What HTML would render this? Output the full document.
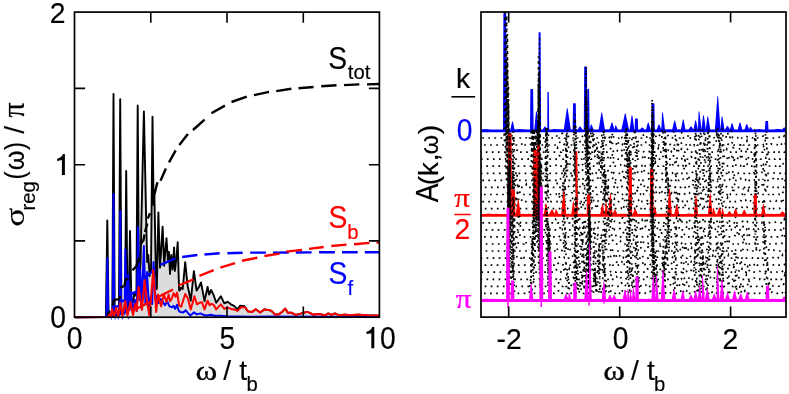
<!DOCTYPE html>
<html><head><meta charset="utf-8"><title>plot</title>
<style>html,body{margin:0;padding:0;background:#fff}svg{display:block;will-change:transform;transform:translateZ(0)}text{font-family:"Liberation Sans",sans-serif;font-size:28px;fill:#000}.sf{font-family:"Liberation Serif",serif}.sub{font-size:20.5px}</style>
</head><body>
<svg width="789" height="394" viewBox="0 0 789 394">
<rect width="789" height="394" fill="#fff"/>
<polygon points="75,317.2 105.9,317 107.3,220.5 108.6,316.5 112.3,316 113.5,94 114.7,315.5 118.9,315 120.2,99.3 121.5,314 125,312 126.2,171 127.5,308 128.8,300 130,231 131.3,298 133,302 134.5,292 136.4,296 137.7,105.4 139,288 140.6,262 141.3,225 143.9,111.5 146.3,225 147.2,262 148.3,255 149.6,276 151,270 152.5,116.7 153.6,205 154.3,190 155.8,270 156.8,289 158.4,212.5 160,267.6 161.2,250 162.6,226.6 164.2,265.7 165.4,250 166.5,238.3 168,262 169,252 170,274 171.3,255 172.6,269.5 174.1,247.4 174.9,271 176.4,258 177.7,242.3 179.1,290.5 179.6,290.5 181.2,287.5 182.7,289 185.2,262.1 187.5,285 190.8,300.7 193.9,271.2 196.6,290.5 198.9,287 201,282.4 204.5,301.2 207.6,287 209.1,294.6 211.1,290 213.7,295.2 216.2,302.8 220.8,296.2 224.3,303.3 227.4,301.8 230.9,304.3 234,305.8 237.5,309.4 240,305.8 244.6,306.3 247.2,310.4 248,311.4 252.1,311.9 255.7,309.2 260.2,312.4 264.3,309.4 268.4,309.9 271.4,310.9 275,314.4 278.5,314.4 282,311.9 285.1,308.6 288.1,312.9 291.2,312.6 295.8,315 299.8,313.9 303.4,312.9 306.9,311.9 310,312.9 313,314.7 318.1,313.9 321.2,314.4 325.2,315.3 328.3,313.4 331.3,315 334.9,313.4 339.4,315.5 344.5,314.6 350.6,315.2 357.7,314.6 366.9,315.3 379.6,315.6 379.6,317.2 75,317.2" fill="#dcdcdc" stroke="none"/>
<polyline points="75,317.2 105.9,317 107.3,220.5 108.6,316.5 112.3,316 113.5,94 114.7,315.5 118.9,315 120.2,99.3 121.5,314 125,312 126.2,171 127.5,308 128.8,300 130,231 131.3,298 133,302 134.5,292 136.4,296 137.7,105.4 139,288 140.6,262 141.3,225 143.9,111.5 146.3,225 147.2,262 148.3,255 149.6,276 151,270 152.5,116.7 153.6,205 154.3,190 155.8,270 156.8,289 158.4,212.5 160,267.6 161.2,250 162.6,226.6 164.2,265.7 165.4,250 166.5,238.3 168,262 169,252 170,274 171.3,255 172.6,269.5 174.1,247.4 174.9,271 176.4,258 177.7,242.3 179.1,290.5 179.6,290.5 181.2,287.5 182.7,289 185.2,262.1 187.5,285 190.8,300.7 193.9,271.2 196.6,290.5 198.9,287 201,282.4 204.5,301.2 207.6,287 209.1,294.6 211.1,290 213.7,295.2 216.2,302.8 220.8,296.2 224.3,303.3 227.4,301.8 230.9,304.3 234,305.8 237.5,309.4 240,305.8 244.6,306.3 247.2,310.4 248,311.4 252.1,311.9 255.7,309.2 260.2,312.4 264.3,309.4 268.4,309.9 271.4,310.9 275,314.4 278.5,314.4 282,311.9 285.1,308.6 288.1,312.9 291.2,312.6 295.8,315 299.8,313.9 303.4,312.9 306.9,311.9 310,312.9 313,314.7 318.1,313.9 321.2,314.4 325.2,315.3 328.3,313.4 331.3,315 334.9,313.4 339.4,315.5 344.5,314.6 350.6,315.2 357.7,314.6 366.9,315.3 379.6,315.6" fill="none" stroke="#000" stroke-width="1.9" stroke-linejoin="round"/>
<polyline points="75,317.2 106.4,317 107.3,258 108.2,316 112.7,316 113.5,194 114.3,315 116.5,313 117.5,316 119.5,315 120.3,211 121.1,314 123,310 124.5,314 125.4,249.4 126.6,312 128.2,275 129.6,310 131,292 132.8,312 135,300 136.8,311 138.1,227 139.3,300 140.2,270 141.5,308 143.9,246 145.4,304 147,272 148.9,306 151,296 152.2,304 153.5,262 155.5,300 157,296 158.5,303 160.5,299 162.7,301.4 164.9,305.2 167.2,301.4 169.5,306.4 170,306.3 172,307.3 173.6,305.8 175.1,308.9 177.1,304.8 178.6,310.4 180.2,311.9 183.2,312.4 185.7,310.4 188.3,313.4 190.3,315.5 193.9,312.4 196.9,314.4 200.5,313.4 203.5,314.9 207.6,315.5 210.6,314.7 214.7,315.8 220.8,315.8 226.9,316.3 250,316.7 270,316.6 379.6,317" fill="none" stroke="#00f" stroke-width="2" stroke-linejoin="round"/>
<path d="M106.9 314.7 L109.5 311.7 L110.6 311.3M112.9 305.6 L113.7 300.2 L119 299.1 L120.6 296.4M120.3 287.6 L124.5 286 L125.6 279.5 L128.4 278.3M132.5 270.3 L136.5 266 L137.6 262 L139.3 257.5M140.6 244.4 L143.5 240 L144.5 234.5M145 232 L147.3 223.5M147.8 218.6 L150 213.3M152.8 200.3 L154.2 195.5M154.4 194.4 L157.4 182.2M160.5 180.7 L165.9 168.5M169 162.4 L175.7 150.3M179.3 145.1 L187.9 134.1M193 130 L204.6 119.6M211.4 113.2 L224.9 105.6" stroke="#000" stroke-width="2.4" fill="none" stroke-linejoin="round"/>
<path d="M231.5 102 L246.8 96.6M253.9 95.2 L269.1 91.8M276.2 91.1 L291.4 88.8M298.5 88.2 L313.6 87M321.2 86.3 L336.5 85.3M344 85.1 L359.3 84.4M367 84.4 L379.6 84" stroke="#000" stroke-width="2.4" fill="none" stroke-linejoin="round"/>
<path d="M115.2 307.1 L119.8 305.5 L121 301.5 L125.1 300.2M130.5 294.1 L139.6 290.3M144 278.6 L155.5 268.7M160.4 264.9 L175.3 258.4M182.2 257 L197.4 255M204.5 254.5 L219.7 253.3M227.4 253.3 L242.6 252.7M250.2 252.6 L265.9 252.6M273 252.6 L288.7 252.5M295.8 252.5 L311.6 252.4M319.1 252.3 L334.9 252.3M342 252.3 L357.7 252.3M364.8 252.3 L379.5 252.3" stroke="#00f" stroke-width="2.4" fill="none" stroke-linejoin="round"/>
<polyline points="75,317.2 108,317 110,314 111,316.5 112.2,309 114,316.5 116.3,308 118.2,316.5 120.3,303 122.5,316 125.2,301 127.5,315.5 130.5,302 133,315 135.3,304 136.6,311 138.5,287 142,310 144.6,280 147,302 149.3,315 151,298 153.2,270 156.2,312 158,294.6 161.1,306.4 163.8,294.6 166.5,302 168.7,294.6 170,301.2 172,298.2 173.6,293.1 175.6,296.7 177.1,292.6 179.1,305.3 181.2,306.8 185.2,294.1 187.8,298.2 190.8,309.4 194.4,296.2 196.9,304.3 199.4,302.8 202,302.3 204.5,309.4 207.6,300.7 209.6,305.3 211.6,303.8 213.7,304.8 216.2,309.4 220.8,304.3 224.3,308.9 227.4,307.3 230.9,308.9 234,309.4 237.5,310.9 241.1,307.3 245.1,307.3 248.2,311.4 248,311.4 252.1,311.9 255.7,309.2 260.2,312.4 264.3,309.4 268.4,309.9 271.4,310.9 274.9,314.4 278.5,314.4 282.1,311.9 285.1,308.6 288.1,312.9 291.2,312.6 295.8,314.9 299.8,313.9 303.4,312.9 306.9,311.9 310,312.9 313,314.7 318.1,313.9 321.2,314.4 325.2,315.3 328.3,313.4 331.3,314.9 334.9,313.4 339.4,315.5 344.5,314.6 350.6,315.2 357.7,314.6 366.9,315.3 379,315.5" fill="none" stroke="#f00" stroke-width="2" stroke-linejoin="round"/>
<path d="M136 309 L151 301.5M158 297 L173 289.5M178.6 285.5 L193.4 279.4M199.4 275.8 L213.7 270.2M220.3 267.7 L235 263.1M242 260.7 L257.3 257.7M264.4 256 L279.6 253.6M286.2 251.6 L302 249.9M309 248.9 L323.7 247M331.3 246 L346.5 244.6M354 244.2 L369.4 242.9M376.5 242.6 L379.3 242.5" stroke="#f00" stroke-width="2.4" fill="none" stroke-linejoin="round"/>
<path d="M111.3 318 v1.6 M115.2 318 v1.4 M118.3 318 v1.5 M122.3 318 v1.5 M128.5 318 v1.2" stroke="#22f" stroke-width="1" fill="none"/>
<g stroke="#000" stroke-width="1.7" fill="none">
<rect x="74.5" y="12.1" width="304.9" height="305.1"/>
</g>
<g stroke="#000" stroke-width="1.6" fill="none">
<path d="M150.8 317.2 v-10.6 M150.8 12.1 v10.6"/>
<path d="M227 317.2 v-10.6 M227 12.1 v10.6"/>
<path d="M303.3 317.2 v-10.6 M303.3 12.1 v10.6"/>
<path d="M74.5 240.9 h10.6 M379.5 240.9 h-10.6"/>
<path d="M74.5 164.7 h10.6 M379.5 164.7 h-10.6"/>
<path d="M74.5 88.4 h10.6 M379.5 88.4 h-10.6"/>
</g>
<text transform="translate(66.79 349.10) scale(1.000 1.085)" style="font-family:'Liberation Sans',sans-serif;font-size:28.3px;fill:#000;stroke:#000;stroke-width:0.15">0</text>
<text transform="translate(219.57 349.10) scale(1.000 1.085)" style="font-family:'Liberation Sans',sans-serif;font-size:28.3px;fill:#000;stroke:#000;stroke-width:0.15">5</text>
<path d="M374.30 348.30 L371.32 348.30 L371.32 333.27 C369.87 333.69 368.23 334.00 366.48 334.10 L366.48 331.83 C369.36 331.32 371.52 329.57 372.34 327.10 L374.30 327.10 Z" fill="#000"/>
<text transform="translate(380.09 349.10) scale(1.000 1.085)" style="font-family:'Liberation Sans',sans-serif;font-size:28.3px;fill:#000;stroke:#000;stroke-width:0.15">0</text>
<text transform="translate(50.19 328.40) scale(1.000 1.085)" style="font-family:'Liberation Sans',sans-serif;font-size:28.3px;fill:#000;stroke:#000;stroke-width:0.15">0</text>
<path d="M64.90 175.10 L61.92 175.10 L61.92 160.07 C60.47 160.49 58.83 160.80 57.08 160.90 L57.08 158.63 C59.96 158.12 62.12 156.37 62.94 153.90 L64.90 153.90 Z" fill="#000"/>
<text transform="translate(49.78 22.85) scale(1.000 1.030)" style="font-family:'Liberation Sans',sans-serif;font-size:28.3px;fill:#000;stroke:#000;stroke-width:0.15">2</text>
<text transform="translate(195.41 379.70) scale(1.170 1.000)" style="font-family:'Liberation Serif',serif;font-size:28.3px;fill:#000;stroke:#000;stroke-width:0.3">ω</text>
<text transform="translate(223.20 380.00) scale(1.000 1.000)" style="font-family:'Liberation Sans',sans-serif;font-size:28.3px;fill:#000;stroke:#000;stroke-width:0.15">/</text>
<text transform="translate(239.17 380.00) scale(1.000 1.000)" style="font-family:'Liberation Sans',sans-serif;font-size:28.3px;fill:#000;stroke:#000;stroke-width:0.15">t</text>
<text transform="translate(246.49 391.00) scale(1.000 1.000)" style="font-family:'Liberation Sans',sans-serif;font-size:20.3px;fill:#000;stroke:#000;stroke-width:0.15">b</text>
<text transform="translate(24.40 226.85) rotate(-90) scale(1.250 1.000)" style="font-family:'Liberation Serif',serif;font-size:28.3px;fill:#000;stroke:#000;stroke-width:0.12">σ</text>
<text transform="translate(34.90 210.55) rotate(-90) scale(1.000 1.000)" style="font-family:'Liberation Sans',sans-serif;font-size:20.3px;fill:#000;stroke:#000;stroke-width:0.15">reg</text>
<text transform="translate(24.40 179.49) rotate(-90) scale(0.850 1.000)" style="font-family:'Liberation Sans',sans-serif;font-size:28.3px;fill:#000;stroke:#000;stroke-width:0.15">(</text>
<text transform="translate(24.10 170.33) rotate(-90) scale(1.000 1.100)" style="font-family:'Liberation Sans',sans-serif;font-size:25.3px;fill:#000;stroke:#000;stroke-width:0.15">ω</text>
<text transform="translate(24.40 149.94) rotate(-90) scale(0.850 1.000)" style="font-family:'Liberation Sans',sans-serif;font-size:28.3px;fill:#000;stroke:#000;stroke-width:0.15">)</text>
<text transform="translate(24.40 133.70) rotate(-90) scale(1.000 1.000)" style="font-family:'Liberation Sans',sans-serif;font-size:28.3px;fill:#000;stroke:#000;stroke-width:0.15">/</text>
<text transform="translate(24.20 117.61) rotate(-90) scale(1.050 1.120)" style="font-family:'Liberation Serif',serif;font-size:28.3px;fill:#000;stroke:#000;stroke-width:0.2">π</text>
<text transform="translate(328.21 69.00) scale(1.000 1.085)" style="font-family:'Liberation Sans',sans-serif;font-size:28.3px;fill:#000;stroke:#000;stroke-width:0.15">S</text>
<text transform="translate(347.79 79.30) scale(1.000 1.000)" style="font-family:'Liberation Sans',sans-serif;font-size:20.3px;fill:#000;stroke:#000;stroke-width:0.15">tot</text>
<text transform="translate(328.51 227.60) scale(1.000 1.085)" style="font-family:'Liberation Sans',sans-serif;font-size:28.3px;fill:#f00;stroke:#f00;stroke-width:0.15">S</text>
<text transform="translate(347.29 238.80) scale(1.000 1.000)" style="font-family:'Liberation Sans',sans-serif;font-size:20.3px;fill:#f00;stroke:#f00;stroke-width:0.15">b</text>
<text transform="translate(328.51 283.90) scale(1.000 1.085)" style="font-family:'Liberation Sans',sans-serif;font-size:28.3px;fill:#00f;stroke:#00f;stroke-width:0.15">S</text>
<text transform="translate(347.41 295.00) scale(1.000 1.000)" style="font-family:'Liberation Sans',sans-serif;font-size:20.3px;fill:#00f;stroke:#00f;stroke-width:0.15">f</text>
<clipPath id="rc"><rect x="481" y="12" width="305" height="305.1"/></clipPath>
<g clip-path="url(#rc)">
<polygon points="481,129.5 484.4,129 487.8,129.3 491.3,129.4 494.8,129.4 498.7,129.5 501.6,129.4 503,129.5 503.4,13.5 503.8,13 505.8,13 506.2,13.5 506.6,129.5 510.4,129.5 512.1,121.5 512.9,121.5 514.6,129.5 518.7,128.9 523.6,129.3 527.5,129.4 530,129.5 530.4,89.5 530.8,89 532.8,89 533.1,89.5 533.6,129.5 534.3,129.5 536,111.4 536.8,111.4 538.5,129.5 538.5,129.5 538.6,32.8 538.6,32.3 540.3,32.3 540.6,32.8 541.1,129.5 542.7,129.5 544.6,126.6 545.4,126.6 547.3,129.5 547.3,129.5 547.4,92.6 547.4,92.1 548.4,92.1 548.8,92.6 549.2,129.5 551.3,129.4 554.7,129.1 558.2,129.3 562.2,129.2 563.8,129.5 566.9,108.3 567.6,108.3 570.8,129.5 572.6,129.5 573,103.8 573.4,103.3 575.4,103.3 575.8,103.8 576.2,129.5 577.7,129.5 579.6,126.6 580.4,126.6 582.3,129.5 583.8,129.5 584.2,66.9 584.6,66.4 586.6,66.4 587,66.9 587.4,129.5 587.4,129.5 587.5,89.5 587.5,89 588.8,89 589.1,89.5 589.6,129.5 589.6,129.5 590.9,124.6 591.6,124.6 593.6,129.5 596.5,129.5 598.7,129.5 601.4,112.4 602.1,112.4 604.9,129.5 607.8,129.2 609.5,129.5 611.6,122.6 612.4,122.6 614.5,129.5 614.5,129.5 615.2,125.6 616,125.6 617.9,129.5 621.4,129.5 624.9,113.4 625.6,113.4 629,129.5 629.7,129.5 631.6,115.5 632.4,115.5 634.3,129.5 634.6,129.5 635,119 635.4,118.5 637.4,118.5 637.8,119 638.2,129.5 639.9,129.5 641.9,127.5 642.6,127.5 644.5,129.5 646,129.5 647.9,122.6 648.6,122.6 650.6,129.5 651.2,129.5 651.6,103.8 652,103.3 654,103.3 654.4,103.8 654.8,129.5 656.7,129.5 658.6,124.6 659.4,124.6 661.3,129.5 661.3,129.5 662.1,112.4 662.9,112.4 665,129.5 668.2,129.3 670.4,129.2 672.2,129.5 674.4,120.5 675.1,120.5 677.2,129.5 679.5,129.2 680.9,129.5 682.9,119.5 683.6,119.5 685.5,129.5 688.5,129.5 690.6,126.5 691.4,126.5 693.5,129.5 693.5,129.5 695.2,120.5 696,120.5 697.9,129.5 697.9,129.5 698.6,111.4 699.4,111.4 701.5,129.5 701.5,129.5 703.1,115.5 703.9,115.5 705.8,129.5 705.8,129.5 707.4,116.5 708.1,116.5 710.3,129.5 712.5,129.5 714.9,129.5 717.4,96.2 718.1,96.2 720.5,129.5 720.5,129.5 721.6,116.5 722.4,116.5 724.5,129.5 725,129.5 727.1,126 727.9,126 730,129.5 730,129.5 731.6,123.2 732.4,123.2 734.3,129.5 736.7,129.4 737.7,129.5 739.6,122.6 740.4,122.6 742.3,129.5 744.5,129.5 746.4,124 747.1,124 749.1,129.5 749.1,129.5 749.9,127 750.6,127 752.5,129.5 755.1,129.4 759.5,128.9 762.5,129.4 764.9,129.5 765.4,121.6 765.7,121.1 767.7,121.1 768.1,121.6 768.5,129.5 773.1,129.4 777,129 779.6,129.1 782,129.5 783.9,127.5 784.6,127.5 786.6,129.5 786,129.5 786,132.3 481,132.3" fill="#00f" stroke="none"/>
<polyline points="481,138 504.2,138 505.1,-26.7 506.1,138 511.4,138 512.7,131 513,131 514.2,138 526.1,138 527.3,135.7 528.5,138 530.2,138 531.7,128.9 532.1,128.9 533.6,138 533.7,138 534.8,128.9 535.9,138 537.9,138 539,68.7 540,138 545.8,138 547.1,128.9 547.4,128.9 548.8,138 556.1,138 557.4,134.4 557.6,134.4 558.9,138 560.4,138 562.1,133.4 562.6,133.4 564.3,138 566.4,138 567.6,128.9 568.7,138 573.6,138 574.9,114.6 576.2,138 581.8,138 583.7,133.4 584.2,133.4 586.1,138 586.1,138 585.6,96.7 586.6,138 586.9,138 588.1,128.9 589.3,138 590.2,138 591.5,128.9 591.7,128.9 593,138 600.5,138 602.5,134.3 603,134.3 605,138 605.1,138 603.3,128.9 603.6,128.9 604.8,138 606.5,138 608,136.7 608.3,136.7 609.8,138 611.7,138 612.7,132.8 613.8,138 619.1,138 620.5,135.2 620.8,135.2 622.2,138 625.3,138 626.4,128.9 627.5,138 631.1,138 633,137.3 633.5,137.3 635.4,138 635.4,138 633.9,128.9 634.2,128.9 635.5,138 635.5,138 634.6,128.9 634.8,128.9 636.1,138 641.8,138 643,133.9 644.2,138 646.4,138 647.7,135.4 648.9,138 651.9,138 652.9,106.9 654,138 654.5,138 655.7,136.4 655.9,136.4 657.2,138 658.4,138 659.9,134.6 660.2,134.6 661.7,138 661.8,138 662.3,128.9 662.6,128.9 663.9,138 665.1,138 667,134.5 667.4,134.5 669.3,138 672.4,138 673.9,131.1 674.3,131.1 675.8,138 680.2,138 681.7,132.5 682,132.5 683.5,138 687.3,138 688.6,134.3 688.9,134.3 690.1,138 692.1,138 693.9,135.9 694.3,135.9 696,138 696.1,138 695.1,128.9 695.4,128.9 696.7,138 698.3,138 699.7,128.9 700,128.9 701.3,138 701.4,138 702.9,128.9 703.2,128.9 704.6,138 707.1,138 708.3,128.9 708.6,128.9 709.9,138 713.8,138 715.5,136.4 715.9,136.4 717.6,138 717.7,138 716.1,128.9 717.4,138 720.3,138 721.6,128.9 721.9,128.9 723.2,138 725.8,138 727.3,132.5 727.6,132.5 729,138 729.8,138 731,131.4 731.3,131.4 732.6,138 737.6,138 738.9,135.9 739.1,135.9 740.4,138 744.7,138 746.4,136.5 746.8,136.5 748.5,138 752,138 753.9,137.4 754.5,137.4 756.4,138 756.4,138 754.4,128.9 754.7,128.9 756.2,138 761.3,138 762.9,136.2 763.3,136.2 764.9,138 765,138 766.2,130.5 767.4,138 768.9,138 770.8,137.3 771.3,137.3 773.3,138 778,138 779.3,137.2 780.6,138 783.2,138 784.2,136 785.2,138 786,138" fill="none" stroke="#000" stroke-width="1.7" stroke-dasharray="1.7 4.37" stroke-dashoffset="4.8"/>
<polyline points="481,145 504.5,145 505.4,48.7 506.4,145 511.8,145 513.1,136.5 513.3,136.5 514.6,145 521.4,145 522.6,142.4 523.8,145 530.6,145 531.8,128.9 532,128.9 533.3,145 535.6,145 536.8,128.9 537.1,128.9 538.3,145 538.4,145 539.2,67.2 540.2,145 545.1,145 546.4,128.9 546.6,128.9 547.9,145 557.8,145 559.6,142.3 560,142.3 561.7,145 563.4,145 564.6,144.2 564.9,144.2 566.1,145 566.1,145 566.5,132.9 567.7,145 573.2,145 574.7,121.6 575,121.6 576.4,145 578.5,145 580.5,140.8 581.1,140.8 583.1,145 585,145 586,67 587,145 587.2,145 588.4,128.9 588.6,128.9 589.9,145 590.7,145 591.9,128.9 592.2,128.9 593.4,145 596.1,145 597.9,142.5 598.4,142.5 600.2,145 602.3,145 603.3,130.2 604.3,145 608.7,145 610,141.8 611.2,145 611.2,145 611.1,137 611.4,137 612.8,145 616.1,145 617.3,140.7 617.6,140.7 618.9,145 622.1,145 623.6,141.2 623.9,141.2 625.4,145 625.4,145 626.6,128.9 626.8,128.9 628.1,145 631,145 632.4,135.9 632.8,135.9 634.3,145 635.8,145 637.2,138.8 637.5,138.8 638.9,145 644.6,145 646.1,141.8 646.5,141.8 648.1,145 651.8,145 652.8,117 653.9,145 654.3,145 655.5,142.3 656.8,145 661.8,145 663.6,141.2 664,141.2 665.9,145 665.9,145 664.8,128.9 665.9,145 669.7,145 671.6,142.7 672.1,142.7 674.1,145 674.8,145 675.9,136.9 677.1,145 678.2,145 680,141.4 680.5,141.4 682.3,145 686.1,145 687.9,142.7 688.3,142.7 690.1,145 690.7,145 692.3,143 692.6,143 694.2,145 694.2,145 695.4,136.5 695.6,136.5 696.9,145 698.1,145 699.4,135.3 699.7,135.3 701,145 701.4,145 703.4,144.1 703.9,144.1 705.9,145 705.9,145 704.5,134.3 704.8,134.3 706.2,145 707.1,145 708.5,131.7 708.8,131.7 710.1,145 715.8,145 717.3,128.9 717.6,128.9 719.1,145 720,145 721.2,136.2 722.3,145 724.8,145 726.6,143 727,143 728.8,145 731.5,145 732.7,141.1 733.9,145 740.2,145 741.5,142.7 741.8,142.7 743.2,145 745.8,145 747.1,140.6 748.4,145 752.1,145 753.4,144.7 753.7,144.7 755.1,145 755.1,145 754.6,136.7 754.9,136.7 756.4,145 760.3,145 761.9,144 762.3,144 763.9,145 764.7,145 765.7,136.2 766.7,145 768.6,145 770.7,143.9 771.2,143.9 773.2,145 776.9,145 778.1,143.5 779.4,145 780.8,145 782.1,143.3 782.3,143.3 783.5,145 783.9,145 785.1,143.6 786.4,145 786,145" fill="none" stroke="#000" stroke-width="1.7" stroke-dasharray="1.7 4.37" stroke-dashoffset="3"/>
<polyline points="481,152.1 505.6,152.1 506.7,15.3 507.7,152.1 511.6,152.1 512.9,138.6 513.2,138.6 514.5,152.1 516.3,152.1 517.5,149.4 518.7,152.1 531.9,152.1 533.1,128.9 534.3,152.1 535.2,152.1 536.4,128.9 537.6,152.1 538,152.1 539,94.2 540,152.1 545,152.1 546.3,128.9 546.6,128.9 548,152.1 556.2,152.1 557.5,148.1 558.8,152.1 561.3,152.1 562.6,148.6 563.9,152.1 565.9,152.1 567.4,142.8 567.8,142.8 569.3,152.1 571.9,152.1 573.3,151 573.7,151 575.1,152.1 575.1,152.1 575.3,125.7 575.6,125.7 576.7,152.1 579.8,152.1 581,150 581.2,150 582.5,152.1 584.7,152.1 586.1,128.9 586.4,128.9 587.8,152.1 587.8,152.1 586.6,99.9 587.7,152.1 592.6,152.1 593.7,133.8 594.8,152.1 595.7,152.1 597.2,147.5 597.5,147.5 599.1,152.1 600.5,152.1 602,139.1 602.3,139.1 603.9,152.1 609.2,152.1 611.1,147.4 611.6,147.4 613.6,152.1 615,152.1 616.5,150 616.8,150 618.2,152.1 620.8,152.1 622.3,149.8 622.6,149.8 624.1,152.1 624.1,152.1 625.2,128.9 625.5,128.9 626.9,152.1 632.1,152.1 633.5,144.2 633.8,144.2 635.2,152.1 636.1,152.1 637.4,142.8 638.6,152.1 642.6,152.1 644.2,151.5 644.6,151.5 646.2,152.1 648.9,152.1 650.9,149 651.4,149 653.4,152.1 653.4,152.1 652.5,113.7 653.6,152.1 657.1,152.1 658.4,148 659.7,152.1 662.7,152.1 664.1,140 664.5,140 665.9,152.1 667.3,152.1 669.3,148.3 669.8,148.3 671.7,152.1 672.6,152.1 673.8,148.7 674.1,148.7 675.3,152.1 676.7,152.1 677.7,141.5 678.7,152.1 680.2,152.1 681.5,148.7 681.8,148.7 683.2,152.1 685,152.1 686.6,148.2 687,148.2 688.6,152.1 693,152.1 694.4,149.8 694.8,149.8 696.2,152.1 699,152.1 700.3,143.9 700.5,143.9 701.8,152.1 702.8,152.1 704.1,141.3 705.3,152.1 707.1,152.1 708.4,139.6 708.8,139.6 710.1,152.1 716.6,152.1 718.5,150.7 719,150.7 720.8,152.1 720.9,152.1 718.9,133.4 720,152.1 720.9,152.1 722.3,145.2 722.6,145.2 724,152.1 725.5,152.1 726.8,149.2 728.1,152.1 731.8,152.1 733.1,147.7 733.4,147.7 734.7,152.1 739,152.1 740.3,143.9 741.5,152.1 745.8,152.1 747.1,147.4 748.3,152.1 751.9,152.1 753.9,150.7 754.4,150.7 756.4,152.1 756.5,152.1 755.1,137 755.3,137 756.6,152.1 758.6,152.1 759.9,151.6 760.2,151.6 761.5,152.1 762.8,152.1 763.8,145.1 764.9,152.1 769.1,152.1 770.3,151.4 770.6,151.4 771.8,152.1 776.3,152.1 777.6,150.7 777.8,150.7 779.1,152.1 780.2,152.1 781.8,151.2 782.2,151.2 783.8,152.1 786,152.1" fill="none" stroke="#000" stroke-width="1.7" stroke-dasharray="1.7 4.37" stroke-dashoffset="1.3"/>
<polyline points="481,159.2 505.5,159.2 506.5,63.9 507.4,159.2 511.2,159.2 512.4,148.2 513.6,159.2 531.1,159.2 532.5,128.9 532.8,128.9 534.2,159.2 534.7,159.2 536.1,136.9 536.5,136.9 537.9,159.2 538.3,159.2 539.4,81.4 540.4,159.2 545.7,159.2 546.7,128.9 547.7,159.2 558,159.2 559.3,155.5 559.5,155.5 560.8,159.2 563.5,159.2 565.2,154.9 565.6,154.9 567.3,159.2 567.3,159.2 566,139.2 566.3,139.2 567.7,159.2 568.5,159.2 569.7,157.6 570,157.6 571.2,159.2 573.3,159.2 574.5,140.4 575.6,159.2 576.3,159.2 577.5,157.5 578.7,159.2 581.8,159.2 583,156.2 584.2,159.2 585.5,159.2 586.5,90.2 587.6,159.2 588.3,159.2 589.5,135.7 590.8,159.2 594.6,159.2 596.1,143.6 596.4,143.6 597.8,159.2 598.3,159.2 600.1,156.9 600.5,156.9 602.3,159.2 602.3,159.2 602.6,143.1 602.9,143.1 604.3,159.2 607.3,159.2 609,155.1 609.4,155.1 611.2,159.2 611.4,159.2 612.6,153.4 613.8,159.2 614.7,159.2 616.1,158.6 616.4,158.6 617.8,159.2 620.7,159.2 621.9,155.7 622.1,155.7 623.3,159.2 625.5,159.2 626.6,133.5 627.6,159.2 628.7,159.2 630,150 630.3,150 631.5,159.2 634.6,159.2 635.9,155.9 636.1,155.9 637.4,159.2 637.4,159.2 636.5,148.7 637.7,159.2 642,159.2 643.6,154.6 644,154.6 645.6,159.2 648.2,159.2 649.5,156.4 649.7,156.4 650.9,159.2 651.1,159.2 652.1,99.2 653,159.2 654.7,159.2 655.8,154.3 656.9,159.2 662.8,159.2 664.2,141.8 664.5,141.8 665.9,159.2 672,159.2 673.3,155.8 673.6,155.8 674.9,159.2 676,159.2 677.7,157.6 678.1,157.6 679.7,159.2 681.6,159.2 683,154.6 683.3,154.6 684.6,159.2 689.8,159.2 691,156.6 691.3,156.6 692.5,159.2 695.2,159.2 696.5,149.9 696.8,149.9 698.2,159.2 702.5,159.2 703.8,147.7 704.1,147.7 705.4,159.2 706.4,159.2 707.6,151.1 708.8,159.2 709.8,159.2 711.8,156.4 712.3,156.4 714.4,159.2 717.9,159.2 719.1,144.7 719.4,144.7 720.6,159.2 722.5,159.2 723.6,153.4 724.8,159.2 726.9,159.2 728.1,155.1 729.3,159.2 731.2,159.2 732.5,154.2 733.7,159.2 737.1,159.2 738.4,157.4 739.7,159.2 739.8,159.2 741.1,153.9 741.4,153.9 742.7,159.2 746.4,159.2 747.7,155.7 748.9,159.2 749.7,159.2 751.1,157.9 751.4,157.9 752.8,159.2 753.7,159.2 754.8,144.7 755.8,159.2 757,159.2 758.5,157.8 758.8,157.8 760.2,159.2 764.4,159.2 765.6,157.7 766.8,159.2 766.9,159.2 766.9,148.4 767.1,148.4 768.4,159.2 769.2,159.2 770.5,158.2 770.7,158.2 771.9,159.2 775.1,159.2 776.4,158.1 776.7,158.1 777.9,159.2 781.3,159.2 782.9,158.6 783.3,158.6 784.9,159.2 786,159.2" fill="none" stroke="#000" stroke-width="1.7" stroke-dasharray="1.7 4.37" stroke-dashoffset="0.2"/>
<polyline points="481,166.2 506.3,166.2 507.4,34.3 508.4,166.2 512.3,166.2 513.6,150.6 514.9,166.2 531.3,166.2 532.5,128.9 532.8,128.9 534,166.2 536.1,166.2 537.4,133.3 538.7,166.2 538.7,166.2 538.3,84.1 539.3,166.2 545.1,166.2 546.3,130.2 546.5,130.2 547.7,166.2 554.9,166.2 556.9,164.4 557.4,164.4 559.4,166.2 562.6,166.2 564.3,164.5 564.7,164.5 566.4,166.2 566.4,166.2 565.6,146.6 566.8,166.2 567.2,166.2 568.8,161.3 569.1,161.3 570.6,166.2 573.4,166.2 574.7,152.2 575,152.2 576.4,166.2 577.8,166.2 579.3,164.3 579.6,164.3 581.1,166.2 581.1,166.2 582.4,164.5 582.7,164.5 584,166.2 585.3,166.2 586.3,116.7 587.4,166.2 587.4,166.2 588.4,143.7 589.5,166.2 596.9,166.2 598.1,150.8 599.3,166.2 601.4,166.2 602.6,154.2 602.9,154.2 604.1,166.2 612.4,166.2 613.6,161.6 613.9,161.6 615.1,166.2 619.6,166.2 621.5,164 622.1,164 624,166.2 624.6,166.2 626,150 626.3,150 627.7,166.2 629.3,166.2 630.3,160.2 631.3,166.2 634.2,166.2 635.4,160.1 636.6,166.2 641.7,166.2 643.2,163.4 643.6,163.4 645.2,166.2 649.9,166.2 651.5,162.7 651.9,162.7 653.4,166.2 653.5,166.2 652.9,123 654,166.2 654.2,166.2 655.5,162.3 656.7,166.2 658.4,166.2 660.2,165 660.7,165 662.5,166.2 663.8,166.2 665.1,163 665.4,163 666.7,166.2 666.8,166.2 665.5,147.7 665.8,147.7 667.3,166.2 669.4,166.2 671.2,162.3 671.7,162.3 673.5,166.2 674.2,166.2 675.5,159.3 675.7,159.3 676.9,166.2 677.7,166.2 679.2,164.7 679.6,164.7 681.1,166.2 682.8,166.2 684.3,163.1 684.7,163.1 686.3,166.2 686.3,166.2 684.5,157.5 685.7,166.2 686.7,166.2 688.5,163 688.9,163 690.7,166.2 694.2,166.2 695.4,161.8 695.7,161.8 696.9,166.2 697,166.2 695.4,157 695.8,157 697.3,166.2 698.7,166.2 700,152.4 701.2,166.2 703.8,166.2 704.9,158.1 706,166.2 708,166.2 709.3,148.3 709.5,148.3 710.8,166.2 712.3,166.2 714.2,165.7 714.7,165.7 716.7,166.2 716.8,166.2 718.2,156.6 718.6,156.6 720,166.2 721.9,166.2 723.1,160.5 724.4,166.2 725,166.2 726.4,165.5 726.7,165.5 728.1,166.2 728.8,166.2 730.5,165.1 730.9,165.1 732.6,166.2 732.8,166.2 734.2,159.9 734.6,159.9 736.1,166.2 740.4,166.2 741.7,163.7 741.9,163.7 743.2,166.2 745.7,166.2 746.8,163.1 747.9,166.2 753.7,166.2 755.1,151.6 755.4,151.6 756.7,166.2 759.8,166.2 761.1,165.5 761.4,165.5 762.7,166.2 765.5,166.2 766.7,160.2 767.8,166.2 768.4,166.2 769.9,166 770.3,166 771.9,166.2 776.6,166.2 777.8,164.5 778.1,164.5 779.3,166.2 781.3,166.2 782.6,162.9 782.8,162.9 784.1,166.2 786,166.2" fill="none" stroke="#000" stroke-width="1.7" stroke-dasharray="1.7 4.37" stroke-dashoffset="0.8"/>
<polyline points="481,173.3 506.4,173.3 507.3,71.6 508.3,173.3 511.7,173.3 513.2,162.4 513.5,162.4 515,173.3 515.9,173.3 517,171.1 518.2,173.3 532.1,173.3 533.2,128.9 534.4,173.3 536,173.3 537.2,149.6 538.5,173.3 538.5,173.3 538.5,56.3 539.5,173.3 545.2,173.3 546.3,157.5 547.3,173.3 556.3,173.3 557.8,172.5 558.1,172.5 559.6,173.3 562.1,173.3 563.5,170.6 563.8,170.6 565.1,173.3 565.2,173.3 566.1,160.2 566.4,160.2 567.7,173.3 571.8,173.3 573.1,169.8 573.4,169.8 574.7,173.3 574.7,173.3 574.4,143.6 574.6,143.6 575.8,173.3 576,173.3 577.5,171.3 577.9,171.3 579.4,173.3 580.5,173.3 582.2,170.2 582.7,170.2 584.4,173.3 585.7,173.3 586.8,134.6 587.9,173.3 587.9,173.3 589,151.8 590.3,173.3 593.9,173.3 595.2,171.2 596.4,173.3 598.7,173.3 599.9,156.5 600.2,156.5 601.4,173.3 601.4,173.3 602.4,164.2 602.7,164.2 603.9,173.3 606.6,173.3 608,170.7 608.3,170.7 609.7,173.3 611.4,173.3 612.6,169.8 612.8,169.8 614,173.3 620.4,173.3 621.7,170.3 622,170.3 623.3,173.3 626.9,173.3 628.2,138.5 628.5,138.5 629.9,173.3 630.5,173.3 632,166.8 632.3,166.8 633.8,173.3 634.7,173.3 636.1,166.7 636.4,166.7 637.8,173.3 641.1,173.3 642.9,168.6 643.4,168.6 645.2,173.3 648.6,173.3 650.1,170 650.5,170 651.9,173.3 652,173.3 652.4,112 653.4,173.3 653.5,173.3 654.6,169.1 655.7,173.3 662.6,173.3 664.5,171.1 665,171.1 667,173.3 667,173.3 665.2,149.9 665.5,149.9 666.7,173.3 667.2,173.3 668.8,172.2 669.1,172.2 670.7,173.3 672.2,173.3 674.2,171.2 674.8,171.2 676.8,173.3 677.8,173.3 679.1,171.9 679.4,171.9 680.7,173.3 682.7,173.3 684,168.6 684.2,168.6 685.5,173.3 691.9,173.3 693.2,171 693.5,171 694.8,173.3 697.5,173.3 698.9,164.3 699.2,164.3 700.5,173.3 701.6,173.3 703,167.2 703.3,167.2 704.6,173.3 704.8,173.3 706.7,171.5 707.2,171.5 709.1,173.3 709.1,173.3 709.4,157.1 710.6,173.3 714.2,173.3 715.6,172.1 716,172.1 717.4,173.3 717.8,173.3 719,159.5 720.3,173.3 721.2,173.3 722.4,165.5 723.6,173.3 726.9,173.3 728,170.1 729.2,173.3 729.4,173.3 731.4,171.1 732,171.1 734,173.3 737.9,173.3 739.6,172.6 740,172.6 741.7,173.3 744.7,173.3 746.1,172.2 746.4,172.2 747.9,173.3 749.9,173.3 751.5,171.9 751.9,171.9 753.5,173.3 753.9,173.3 755.2,154.7 755.5,154.7 756.8,173.3 760.4,173.3 761.7,172.3 761.9,172.3 763.1,173.3 763.2,173.3 763.1,163.9 763.4,163.9 764.7,173.3 764.8,173.3 766,173 766.2,173 767.4,173.3 771.9,173.3 773.4,172.9 773.8,172.9 775.3,173.3 780.1,173.3 781.4,172.3 781.6,172.3 782.9,173.3 786,173.3" fill="none" stroke="#000" stroke-width="1.7" stroke-dasharray="1.7 4.37" stroke-dashoffset="0.3"/>
<polyline points="481,180.4 506.4,180.4 507.4,94.9 508.4,180.4 511.9,180.4 513.1,158.3 514.2,180.4 515.4,180.4 516.8,175.6 517.1,175.6 518.4,180.4 532.5,180.4 533.9,128.9 534.2,128.9 535.6,180.4 535.7,180.4 535.1,153.6 535.4,153.6 536.7,180.4 537.6,180.4 538.7,76.3 539.7,180.4 545,180.4 546.2,164.5 547.4,180.4 557.6,180.4 559.4,178.1 559.9,178.1 561.8,180.4 565.1,180.4 566.1,169 567.1,180.4 570.7,180.4 572.1,175.6 572.5,175.6 574,180.4 575,180.4 576.1,154.5 577.2,180.4 577.6,180.4 579.6,178.7 580.1,178.7 582,180.4 582.5,180.4 583.8,177.3 584.1,177.3 585.4,180.4 586.1,180.4 587.1,135.8 588.1,180.4 588.2,180.4 587.2,157.4 587.6,157.4 589.1,180.4 596.1,180.4 597.7,178.2 598.2,178.2 599.9,180.4 600.4,180.4 601.5,152.2 602.6,180.4 603.1,180.4 604.5,172.8 604.8,172.8 606.1,180.4 607.8,180.4 609.2,179.4 609.5,179.4 610.9,180.4 611.8,180.4 613.1,177.2 613.4,177.2 614.8,180.4 615,180.4 616.8,178.9 617.3,178.9 619.1,180.4 622.4,180.4 623.6,176.8 623.9,176.8 625.2,180.4 625.7,180.4 627,154.8 627.3,154.8 628.6,180.4 631.6,180.4 632.7,172.8 633.9,180.4 638.7,180.4 640.3,178.4 640.7,178.4 642.3,180.4 647.1,180.4 649,178.9 649.5,178.9 651.4,180.4 651.5,180.4 652.1,137.4 653.1,180.4 653.3,180.4 654.5,177.3 654.8,177.3 656.1,180.4 661.5,180.4 663.5,177.9 664,177.9 666,180.4 666.1,180.4 666.1,167.1 667.3,180.4 671.8,180.4 673.6,178.6 674,178.6 675.7,180.4 675.8,180.4 675.4,172.3 676.6,180.4 681.1,180.4 682.4,178.4 682.6,178.4 683.9,180.4 686.9,180.4 688.2,175.4 688.4,175.4 689.7,180.4 693.6,180.4 695.3,178.2 695.7,178.2 697.4,180.4 697.4,180.4 695.9,170 697,180.4 698.4,180.4 700.3,178.4 700.8,178.4 702.7,180.4 702.8,180.4 703.4,171.5 703.7,171.5 704.9,180.4 707.1,180.4 708.6,178.4 709,178.4 710.6,180.4 710.6,180.4 709.5,166.6 710.6,180.4 713.5,180.4 715.4,179.8 715.9,179.8 717.8,180.4 717.8,180.4 717.7,169.1 718,169.1 719.3,180.4 720,180.4 721.5,171.4 721.8,171.4 723.2,180.4 727.7,180.4 729.1,179 729.3,179 730.6,180.4 733,180.4 734,173.6 735,180.4 738.7,180.4 740.2,178.4 740.5,178.4 742,180.4 745.3,180.4 746.5,178 747.8,180.4 749.8,180.4 751.8,179.4 752.4,179.4 754.4,180.4 754.4,180.4 755.1,169.4 755.4,169.4 756.6,180.4 757.8,180.4 759.5,179.7 760,179.7 761.8,180.4 764.9,180.4 765.9,172 766.9,180.4 771.6,180.4 773.2,178.6 773.5,178.6 775.1,180.4 776.6,180.4 778.3,178.8 778.7,178.8 780.4,180.4 781.7,180.4 783.1,177.1 783.4,177.1 784.8,180.4 786,180.4" fill="none" stroke="#000" stroke-width="1.7" stroke-dasharray="1.7 4.37" stroke-dashoffset="4.8"/>
<polyline points="481,187.4 507.3,187.4 508.4,84.8 509.4,187.4 512,187.4 513.2,163.8 514.3,187.4 514.8,187.4 516.2,179.5 516.6,179.5 518,187.4 525.2,187.4 526.4,184.4 527.6,187.4 533,187.4 534.2,144.2 535.4,187.4 535.9,187.4 537.3,158.1 537.6,158.1 539,187.4 539.1,187.4 538.5,108 539.5,187.4 545.5,187.4 546.7,162.1 547,162.1 548.2,187.4 555.5,187.4 557.5,182.9 558,182.9 560,187.4 560.1,187.4 561.7,184.1 562,184.1 563.6,187.4 563.6,187.4 563.5,167.1 563.8,167.1 565.2,187.4 566.1,187.4 567.5,184.8 567.8,184.8 569.2,187.4 572.7,187.4 574.7,184.2 575.3,184.2 577.3,187.4 577.3,187.4 575.2,169.2 576.3,187.4 577.6,187.4 578.9,185.5 579.1,185.5 580.4,187.4 581.9,187.4 583.2,182 583.5,182 584.9,187.4 586.6,187.4 587.7,156.6 588.8,187.4 588.8,187.4 589.7,164.8 591,187.4 599.3,187.4 600.8,186.6 601.2,186.6 602.7,187.4 602.8,187.4 603.8,172.7 604.1,172.7 605.4,187.4 605.5,187.4 604.1,164.9 604.4,164.9 605.9,187.4 613.9,187.4 615.1,181.8 616.2,187.4 618.7,187.4 620.5,185.2 620.9,185.2 622.7,187.4 623.2,187.4 624.9,186.2 625.3,186.2 627,187.4 627.9,187.4 629,158.1 630.1,187.4 630.7,187.4 632.1,183.6 632.4,183.6 633.7,187.4 638.2,187.4 640,183.6 640.5,183.6 642.3,187.4 643.7,187.4 644.9,184.8 646.1,187.4 651.1,187.4 652.1,123.6 653.1,187.4 655.5,187.4 657.1,185.4 657.5,185.4 659.1,187.4 661.9,187.4 663.7,186.4 664.2,186.4 666,187.4 666.1,187.4 665.7,166.3 667,187.4 668.1,187.4 669.3,184.7 669.6,184.7 670.8,187.4 675,187.4 676.3,186.3 677.6,187.4 680.8,187.4 682.6,185.6 683.1,185.6 684.9,187.4 686.8,187.4 688.1,185.1 689.4,187.4 691.4,187.4 693,184.9 693.4,184.9 695,187.4 695.8,187.4 697,173.8 698.2,187.4 698.3,187.4 699.1,177.4 699.4,177.4 700.7,187.4 703.2,187.4 704.7,181.5 705.1,181.5 706.5,187.4 708,187.4 709.2,173.5 709.5,173.5 710.7,187.4 712.5,187.4 714.2,186 714.6,186 716.2,187.4 716.3,187.4 717.6,181 718.9,187.4 721,187.4 722.5,184.5 722.9,184.5 724.3,187.4 724.6,187.4 726.5,186.7 727,186.7 728.8,187.4 732.4,187.4 733.8,183.2 734.2,183.2 735.6,187.4 739.7,187.4 740.9,187.1 741.2,187.1 742.4,187.4 744.7,187.4 746.4,185.7 746.8,185.7 748.5,187.4 753.1,187.4 754.6,187.2 755,187.2 756.5,187.4 756.5,187.4 755.5,167.8 756.7,187.4 757.9,187.4 759.1,186.8 759.3,186.8 760.5,187.4 761.8,187.4 762.9,178.8 764,187.4 766.1,187.4 767.6,186.7 768,186.7 769.5,187.4 772.8,187.4 774.8,185.8 775.3,185.8 777.3,187.4 779.7,187.4 781.6,186.4 782.2,186.4 784.1,187.4 786,187.4" fill="none" stroke="#000" stroke-width="1.7" stroke-dasharray="1.7 4.37" stroke-dashoffset="2.2"/>
<polyline points="481,194.5 507.5,194.5 508.5,103.1 509.5,194.5 512.3,194.5 513.3,173.7 514.3,194.5 517.3,194.5 518.5,183.5 518.8,183.5 520.1,194.5 533.4,194.5 534.5,140.1 535.7,194.5 535.7,194.5 535.8,176 536.1,176 537.3,194.5 537.3,194.5 538.4,133.5 539.5,194.5 545,194.5 546.5,176.5 546.9,176.5 548.4,194.5 556.1,194.5 557.6,191.4 558,191.4 559.5,194.5 563.2,194.5 564.5,185.1 564.8,185.1 566.1,194.5 569.9,194.5 571.6,192.8 572.1,192.8 573.9,194.5 573.9,194.5 575.1,158.2 576.4,194.5 577.5,194.5 578.7,192.8 580,194.5 583.1,194.5 584.3,188.1 584.6,188.1 585.8,194.5 587.1,194.5 588.1,168 589.1,194.5 589.2,194.5 588.9,178.6 589.2,178.6 590.4,194.5 591.2,194.5 592.8,191.2 593.2,191.2 594.8,194.5 600.2,194.5 601.7,189.9 602.1,189.9 603.6,194.5 603.8,194.5 604.8,181.1 605.8,194.5 605.9,194.5 605.5,175 605.8,175 607.2,194.5 611.2,194.5 612.6,191.8 612.9,191.8 614.3,194.5 615.2,194.5 616.8,190.9 617.2,190.9 618.8,194.5 622.4,194.5 623.7,192.5 623.9,192.5 625.1,194.5 628,194.5 629.3,151.3 629.5,151.3 630.8,194.5 632.7,194.5 634,190.8 634.3,190.8 635.5,194.5 635.6,194.5 636.9,190.5 637.2,190.5 638.5,194.5 640.2,194.5 641.8,191.6 642.2,191.6 643.9,194.5 644.8,194.5 646.4,190.6 646.8,190.6 648.5,194.5 650.6,194.5 651.7,141.2 652.8,194.5 653.2,194.5 654.9,189.8 655.3,189.8 657.1,194.5 659,194.5 660.7,189.7 661.2,189.7 662.9,194.5 664.4,194.5 666.2,190.1 666.6,190.1 668.4,194.5 668.4,194.5 667.7,175.8 668,175.8 669.1,194.5 670.5,194.5 671.7,192.9 672.9,194.5 674.2,194.5 675.3,186.6 676.4,194.5 676.9,194.5 678.3,192.9 678.6,192.9 679.9,194.5 681.9,194.5 683.5,193.4 683.9,193.4 685.4,194.5 687.5,194.5 688.9,192.7 689.2,192.7 690.5,194.5 694.1,194.5 695.4,177.5 695.7,177.5 697,194.5 698.9,194.5 700.1,187.4 701.3,194.5 702,194.5 703.3,187.1 703.6,187.1 704.8,194.5 708.4,194.5 709.7,173.3 710,173.3 711.2,194.5 715.8,194.5 717.7,191.7 718.1,191.7 719.9,194.5 720,194.5 719.9,183.2 721,194.5 721,194.5 721.7,185 721.9,185 723.1,194.5 727.6,194.5 728.9,192.1 729.2,192.1 730.5,194.5 732.1,194.5 733.3,187.4 734.6,194.5 742.2,194.5 743.3,188.5 744.4,194.5 747.2,194.5 748.3,190.8 749.4,194.5 752.4,194.5 754.1,192.8 754.5,192.8 756.2,194.5 756.3,194.5 754.9,180.8 756.1,194.5 757.3,194.5 758.5,192.9 758.8,192.9 760,194.5 764.1,194.5 765.3,187.1 766.4,194.5 769.8,194.5 771,192.9 772.3,194.5 777.1,194.5 778.4,194.2 779.6,194.5 780.8,194.5 782.2,191.6 782.5,191.6 783.9,194.5 786,194.5" fill="none" stroke="#000" stroke-width="1.7" stroke-dasharray="1.7 4.37" stroke-dashoffset="3.1"/>
<polyline points="481,201.6 507.9,201.6 509,140.6 510,201.6 511.9,201.6 513.2,181.2 513.4,181.2 514.6,201.6 516.2,201.6 517.4,193.2 517.7,193.2 518.9,201.6 521,201.6 522.2,199.2 523.4,201.6 532.9,201.6 534.2,161.1 534.4,161.1 535.6,201.6 536.5,201.6 537.6,172.1 538.7,201.6 538.8,201.6 538.1,138.1 539.1,201.6 545.5,201.6 546.9,183 547.3,183 548.8,201.6 558.2,201.6 559.4,196.8 559.7,196.8 561,201.6 561.8,201.6 563.2,180.6 563.5,180.6 565,201.6 570.2,201.6 571.7,196.8 572.1,196.8 573.6,201.6 574.3,201.6 575.6,197.7 576.8,201.6 576.8,201.6 575.8,164.3 576.1,164.3 577.4,201.6 583.7,201.6 584.9,196.4 586.1,201.6 587.1,201.6 588.1,169.5 589.2,201.6 589.2,201.6 589.9,188.6 590.1,188.6 591.3,201.6 591.7,201.6 592.7,196 593.7,201.6 595.3,201.6 596.9,200.5 597.3,200.5 598.9,201.6 601.8,201.6 603.6,198.5 604,198.5 605.8,201.6 605.9,201.6 603.9,186.8 604.9,201.6 605,201.6 604.9,188.4 605.3,188.4 606.7,201.6 609.1,201.6 610.4,196.8 611.7,201.6 613.4,201.6 614.4,199 615.4,201.6 621.6,201.6 623.2,196.9 623.5,196.9 625.1,201.6 626.3,201.6 627.9,199.6 628.3,199.6 630,201.6 630,201.6 629.5,165 629.7,165 631,201.6 631.2,201.6 632.4,196.9 633.5,201.6 637.8,201.6 639.7,198.4 640.2,198.4 642,201.6 644,201.6 646,200.2 646.5,200.2 648.5,201.6 650.8,201.6 651.9,159.3 653,201.6 653.1,201.6 654.9,201 655.4,201 657.2,201.6 659.8,201.6 661,200.8 661.3,200.8 662.5,201.6 664.6,201.6 665.9,197.8 666.1,197.8 667.4,201.6 667.5,201.6 668.3,178.8 669.5,201.6 674.9,201.6 676.4,198.1 676.8,198.1 678.3,201.6 678.4,201.6 677.5,190.7 678.6,201.6 680,201.6 681.4,201 681.7,201 683,201.6 683.8,201.6 685.5,199.9 685.9,199.9 687.6,201.6 689.7,201.6 691.4,198.9 691.8,198.9 693.4,201.6 695.1,201.6 696.5,185.6 696.9,185.6 698.2,201.6 700,201.6 701.2,195.5 702.4,201.6 702.5,201.6 703.8,198 705.1,201.6 707.6,201.6 709,178.8 709.4,178.8 710.9,201.6 713.4,201.6 715.3,198.7 715.8,198.7 717.7,201.6 718.5,201.6 719.7,190.5 721,201.6 721.2,201.6 722.4,196.7 723.6,201.6 726.4,201.6 727.6,197.5 728.9,201.6 731.5,201.6 732.7,200.5 733,200.5 734.2,201.6 738.6,201.6 740.3,200.6 740.7,200.6 742.3,201.6 743.7,201.6 745.1,199.9 745.4,199.9 746.8,201.6 748.2,201.6 749.6,200.3 749.9,200.3 751.3,201.6 754.8,201.6 756,180.4 757.3,201.6 761.9,201.6 763.1,200.8 764.3,201.6 767.8,201.6 769.4,201 769.8,201 771.4,201.6 775.5,201.6 776.8,200.6 778.1,201.6 781.2,201.6 782.3,197.9 783.4,201.6 786,201.6" fill="none" stroke="#000" stroke-width="1.7" stroke-dasharray="1.7 4.37" stroke-dashoffset="4.8"/>
<polyline points="481,208.6 508.8,208.6 509.8,139.9 510.8,208.6 511.5,208.6 512.7,176.4 513,176.4 514.2,208.6 514.6,208.6 515.8,196.1 516.1,196.1 517.3,208.6 533.4,208.6 534.6,146.5 535.8,208.6 535.9,208.6 535.7,171.6 536.8,208.6 536.9,208.6 538,152.1 539.1,208.6 545.4,208.6 546.7,191.6 547,191.6 548.4,208.6 559.6,208.6 560.9,205.8 561.1,205.8 562.4,208.6 562.4,208.6 563.6,189 563.9,189 565.2,208.6 567.5,208.6 568.7,207.9 568.9,207.9 570.2,208.6 573.6,208.6 575.3,206.9 575.8,206.9 577.6,208.6 577.6,208.6 575.6,172.7 575.9,172.7 577.3,208.6 579.3,208.6 580.5,202.3 581.6,208.6 582.4,208.6 583.7,200.8 584,200.8 585.2,208.6 587.2,208.6 588.2,188.2 589.2,208.6 589.6,208.6 590.9,196.7 592.1,208.6 595.1,208.6 596.4,203.3 596.7,203.3 598.1,208.6 603,208.6 604.3,195.8 604.6,195.8 605.9,208.6 607,208.6 608,184.4 609.1,208.6 613.1,208.6 614.1,204 615.1,208.6 621.1,208.6 622.6,204.8 623,204.8 624.4,208.6 626.6,208.6 627.9,159.4 628.2,159.4 629.5,208.6 631.3,208.6 632.3,204 633.3,208.6 634.4,208.6 635.8,204.6 636.1,204.6 637.5,208.6 641.2,208.6 642.7,206.4 643.1,206.4 644.6,208.6 645.3,208.6 647.2,203.8 647.7,203.8 649.6,208.6 650.5,208.6 651.6,161.4 652.6,208.6 661.3,208.6 662.6,207.6 662.9,207.6 664.3,208.6 666.1,208.6 667.7,204.2 668.1,204.2 669.7,208.6 669.7,208.6 669.4,191.6 669.7,191.6 671,208.6 671.8,208.6 673.7,206.3 674.2,206.3 676.1,208.6 676.5,208.6 677.7,197.3 679,208.6 682.9,208.6 684.4,203.7 684.7,203.7 686.2,208.6 689.9,208.6 691.5,206.7 691.9,206.7 693.6,208.6 693.9,208.6 695.4,192.6 695.7,192.6 697.2,208.6 698.2,208.6 699.4,202.6 699.7,202.6 700.9,208.6 702.6,208.6 703.7,204.7 704.7,208.6 707.5,208.6 708.9,186.9 709.2,186.9 710.5,208.6 717.9,208.6 719,203.1 720.2,208.6 721,208.6 722,201.8 723.1,208.6 725.1,208.6 726.4,206.3 726.7,206.3 728.1,208.6 728.9,208.6 730.1,206.5 731.4,208.6 732.3,208.6 734,205.8 734.4,205.8 736.1,208.6 739.6,208.6 741.3,207.2 741.8,207.2 743.5,208.6 744.9,208.6 746.5,207.2 746.9,207.2 748.5,208.6 753.1,208.6 754.6,191 754.9,191 756.4,208.6 757.6,208.6 759.4,207.8 759.9,207.8 761.7,208.6 762,208.6 763.4,198.6 763.7,198.6 765.1,208.6 769.5,208.6 770.8,206.8 771.1,206.8 772.4,208.6 777.7,208.6 779.3,208.4 779.7,208.4 781.4,208.6 786,208.6" fill="none" stroke="#000" stroke-width="1.7" stroke-dasharray="1.7 4.37" stroke-dashoffset="2.3"/>
<polyline points="507.0,62 508.3,131 510.3,200" fill="none" stroke="#000" stroke-width="2.3" stroke-dasharray="2.4 1.3" opacity="0.8"/>
<polyline points="539.5,38 538.9,131 538.2,150" fill="none" stroke="#000" stroke-width="1.5" stroke-dasharray="2.2 2.6" opacity="0.85"/>
<polygon points="481,214 484.8,213.9 489,213.6 492.7,214 496.4,213.7 500.1,213.9 504.4,214 508.1,214 508.5,133.2 508.9,132.7 511.1,132.7 511.5,133.2 511.9,214 512,214 512,189.9 512.4,189.4 514.6,189.4 515,189.9 515.4,214 515.7,214 517.9,199.6 518.6,199.6 520.7,214 523.5,213.8 527,213.9 529.5,213.7 533.3,214 533.7,150.5 534.1,150 536.4,150 536.7,150.5 537.1,214 537.2,214 537.2,144.4 537.3,143.9 539,143.9 539.4,144.4 539.8,214 543.7,214 545.6,203.7 546.4,203.7 548.3,214 549.2,214 551.6,209.5 552.4,209.5 554.8,214 554.8,214 555.6,209.5 556.4,209.5 558.3,214 561.2,214 563.4,190.5 564.1,190.5 566.2,214 569.6,213.7 571.3,214 573,201.6 573.8,201.6 575.5,214 575.5,214 575.6,151.5 575.6,151 576.9,151 577.3,151.5 577.7,214 581.5,213.8 586.7,214 587.1,195 587.5,194.5 589.8,194.5 590.1,195 590.5,214 592.8,213.9 595.7,213.9 600.2,214 602.1,204 602.9,204 604.8,214 604.8,214 605.6,202.6 606.4,202.6 608.3,214 608.3,214 610,193.5 610.8,193.5 612.5,214 612.7,214 614.6,209.7 615.4,209.7 617.3,214 620.9,213.7 623,213.8 625.4,213.8 628.4,214 628.8,167.6 629.1,167.1 631.4,167.1 631.8,167.6 632.2,214 632.8,214 634.9,208.7 635.6,208.7 637.8,214 642.6,214 645,213.9 647.2,213.9 649.8,214 650.2,169.6 650.6,169.1 652.9,169.1 653.2,169.6 653.6,214 653.7,214 654,206.7 654.8,206.7 656.9,214 661,213.7 663.1,213.8 665.7,213.6 667.4,214 669.2,188.4 670,188.4 671.8,214 674.2,214 676.4,204.7 677.1,204.7 679.2,214 682.2,213.9 685.6,213.9 688.6,213.6 692.3,213.9 693.9,214 695.6,196.1 696.4,196.1 698.1,214 703.1,214 707.9,214 709.9,193.5 710.6,193.5 712.5,214 712.5,214 712.9,207.7 713.6,207.7 715.6,214 717.1,214 719,207.7 719.8,207.7 721.7,214 721.7,214 721.8,207.7 722.4,207.7 724.3,214 727.2,214 729.1,211.2 729.9,211.2 731.8,214 733.3,214 735.2,208.7 736,208.7 737.9,214 742,214 743.9,209.7 744.6,209.7 746.6,214 751.3,213.8 753.4,214 753.8,195 754.1,194.5 756.4,194.5 756.8,195 757.2,214 759.8,213.8 761.2,214 763,204.3 763.8,204.3 765.6,214 770.2,213.7 774.9,214 777.6,213.8 779.7,214 782.1,211.5 782.9,211.5 785.3,214 786,214 786,216.8 481,216.8" fill="#f00" stroke="none"/>
<polyline points="481,222.8 508.7,222.8 509.8,169.6 510.9,222.8 511.9,222.8 513.2,196.6 513.4,196.6 514.7,222.8 517.2,222.8 518.7,213.8 519.1,213.8 520.6,222.8 533.4,222.8 534.8,156.9 535.1,156.9 536.6,222.8 536.6,222.8 536.5,206 536.8,206 538.1,222.8 538.2,222.8 538.2,167.5 539.2,222.8 544.9,222.8 546.1,206.2 546.4,206.2 547.6,222.8 554.8,222.8 556,218.7 556.3,218.7 557.5,222.8 559.8,222.8 561,222.1 561.3,222.1 562.6,222.8 562.6,222.8 563.1,210.1 563.4,210.1 564.7,222.8 566,222.8 567.4,218 567.7,218 569.1,222.8 571.4,222.8 572.7,218.5 573,218.5 574.2,222.8 574.4,222.8 575.6,197.1 576.8,222.8 577.8,222.8 579.1,216.5 580.4,222.8 582.6,222.8 584.1,219.7 584.4,219.7 585.9,222.8 587.9,222.8 588.8,203.5 589.8,222.8 590.4,222.8 592.1,221.1 592.6,221.1 594.3,222.8 595,222.8 597,220 597.5,220 599.5,222.8 600.3,222.8 602.2,221 602.7,221 604.7,222.8 604.7,222.8 603.9,209.4 604.2,209.4 605.4,222.8 608.5,222.8 609.7,222 610,222 611.3,222.8 611.3,222.8 610.5,199.5 610.8,199.5 612.2,222.8 612.9,222.8 614.8,221 615.3,221 617.2,222.8 620.6,222.8 622.3,217.9 622.8,217.9 624.5,222.8 627.7,222.8 629.5,220.5 629.9,220.5 631.7,222.8 631.7,222.8 630.4,193.1 631.5,222.8 632.2,222.8 633.6,216.9 633.9,216.9 635.2,222.8 640.8,222.8 642.1,219.9 643.3,222.8 644.6,222.8 646,217.8 646.4,217.8 647.8,222.8 650.3,222.8 651.4,168 652.5,222.8 652.5,222.8 653.8,212.2 654.1,212.2 655.5,222.8 658.7,222.8 660.2,221.5 660.6,221.5 662.2,222.8 665.1,222.8 666.7,218.8 667.1,218.8 668.8,222.8 668.8,222.8 669,208.5 669.2,208.5 670.5,222.8 675.3,222.8 676.5,218.4 677.8,222.8 677.8,222.8 678.9,214.2 680.1,222.8 680.1,222.8 681.2,218.1 682.2,222.8 686.5,222.8 688.3,218.9 688.8,218.9 690.6,222.8 694.7,222.8 695.7,202.4 696.7,222.8 697.9,222.8 699,219.4 700.1,222.8 702.1,222.8 703.6,217.9 704,217.9 705.4,222.8 707.4,222.8 709.2,222.3 709.7,222.3 711.6,222.8 711.7,222.8 709.9,206.9 710.2,206.9 711.5,222.8 715.3,222.8 716.5,220 717.7,222.8 719.6,222.8 720.9,221.7 721.2,221.7 722.5,222.8 722.5,222.8 721.6,213.7 721.8,213.7 723,222.8 723.7,222.8 725.4,221.9 725.8,221.9 727.5,222.8 727.5,222.8 728.8,219.2 730,222.8 734.2,222.8 735.4,217 736.6,222.8 741.2,222.8 742.7,221.4 743.1,221.4 744.6,222.8 745.7,222.8 746.9,221.6 747.2,221.6 748.5,222.8 750.6,222.8 752.5,222.6 753,222.6 754.9,222.8 755,222.8 755.1,205.6 755.4,205.6 756.8,222.8 757.9,222.8 759.5,222 759.9,222 761.5,222.8 761.9,222.8 762.9,213.3 764,222.8 766.8,222.8 768.2,222.4 768.6,222.4 770,222.8 774,222.8 775.7,222 776.2,222 777.9,222.8 783.3,222.8 784.3,219.3 785.3,222.8 786,222.8" fill="none" stroke="#000" stroke-width="1.7" stroke-dasharray="1.7 4.37" stroke-dashoffset="4.7"/>
<polyline points="481,229.8 508.8,229.8 509.8,132.2 510.8,229.8 511.7,229.8 513.1,198 513.4,198 514.8,229.8 517.9,229.8 519.3,222.2 519.6,222.2 521.1,229.8 533,229.8 534.3,179.2 534.6,179.2 535.9,229.8 535.9,229.8 537.3,200.2 537.6,200.2 539.1,229.8 539.1,229.8 538.3,120.5 539.3,229.8 545.6,229.8 546.9,209.8 548.1,229.8 559.4,229.8 560.8,225.8 561.1,225.8 562.5,229.8 563.1,229.8 564.2,214.5 565.3,229.8 571.5,229.8 573,225.2 573.4,225.2 574.9,229.8 575,229.8 576.1,195.5 577.3,229.8 577.6,229.8 579,227.2 579.4,227.2 580.8,229.8 583.1,229.8 584.4,218.9 585.6,229.8 586.1,229.8 587.6,222.3 587.9,222.3 589.4,229.8 589.5,229.8 588.9,206.8 589.9,229.8 591.2,229.8 592.5,226.3 592.7,226.3 594,229.8 595.5,229.8 597.1,227.4 597.5,227.4 599.2,229.8 603.7,229.8 605,221 606.2,229.8 607.9,229.8 609.1,208.1 610.4,229.8 612.3,229.8 613.5,226 614.6,229.8 617.5,229.8 619.5,228.7 620,228.7 621.9,229.8 625.5,229.8 627.2,229 627.7,229 629.4,229.8 629.4,229.8 629.5,199.2 630.7,229.8 634.2,229.8 635.7,220.8 636,220.8 637.5,229.8 640.2,229.8 641.4,225.8 641.6,225.8 642.8,229.8 644,229.8 645.5,226.4 645.9,226.4 647.4,229.8 650.9,229.8 651.9,186.1 652.8,229.8 653.2,229.8 654.4,221.5 655.5,229.8 656.7,229.8 658.2,226.6 658.6,226.6 660.1,229.8 662.5,229.8 663.8,225.2 664.1,225.2 665.3,229.8 665.6,229.8 667.1,203.9 667.5,203.9 669,229.8 674.6,229.8 675.7,224.4 676.7,229.8 678.3,229.8 679.7,226.6 680,226.6 681.4,229.8 685.4,229.8 687.3,225.3 687.7,225.3 689.6,229.8 690.3,229.8 691.6,227.1 691.8,227.1 693.1,229.8 694.8,229.8 696.2,215.3 696.5,215.3 698,229.8 699.9,229.8 700.9,225.1 701.9,229.8 702.1,229.8 703.5,228 703.8,228 705.2,229.8 706.5,229.8 708.3,227.5 708.8,227.5 710.6,229.8 710.6,229.8 710.7,218.1 711.8,229.8 712.2,229.8 714,228.4 714.4,228.4 716.2,229.8 717.9,229.8 719.3,221.5 719.6,221.5 721.1,229.8 721.5,229.8 722.8,223 723.1,223 724.5,229.8 728.7,229.8 730,225 730.2,225 731.5,229.8 734.6,229.8 736.1,223.8 736.5,223.8 738,229.8 741.1,229.8 742.5,226.1 742.8,226.1 744.2,229.8 746.4,229.8 747.6,226.3 747.9,226.3 749.1,229.8 750.6,229.8 752.4,228.7 752.9,228.7 754.7,229.8 754.8,229.8 755.2,216.4 756.3,229.8 757.4,229.8 759.4,228.2 760,228.2 762,229.8 762.7,229.8 764,222.3 764.2,222.3 765.5,229.8 769.9,229.8 771.6,229.1 772,229.1 773.7,229.8 775.4,229.8 777.3,229.1 777.8,229.1 779.7,229.8 781.3,229.8 782.6,226.7 782.9,226.7 784.3,229.8 786,229.8" fill="none" stroke="#000" stroke-width="1.7" stroke-dasharray="1.7 4.37" stroke-dashoffset="1.5"/>
<polyline points="481,236.9 508.8,236.9 509.9,164.4 510.9,236.9 512.4,236.9 513.6,216.4 514.9,236.9 517.1,236.9 518.5,230.9 518.9,230.9 520.3,236.9 533.4,236.9 534.6,201.6 535.8,236.9 535.8,236.9 536.8,215.8 538,236.9 538.3,236.9 539.3,156.9 540.2,236.9 545.2,236.9 546.6,219.5 546.9,219.5 548.3,236.9 556.8,236.9 558.2,235.8 558.5,235.8 560,236.9 561.6,236.9 563.4,233.5 563.8,233.5 565.6,236.9 565.6,236.9 564.8,228.2 565.1,228.2 566.4,236.9 569.8,236.9 571.3,234.4 571.6,234.4 573.2,236.9 574.4,236.9 575.5,203.4 576.6,236.9 576.7,236.9 578.1,228.9 578.4,228.9 579.9,236.9 580.2,236.9 581.3,230.3 582.3,236.9 582.4,236.9 583.4,224.3 583.7,224.3 584.9,236.9 587.9,236.9 589,217.1 590.1,236.9 590.1,236.9 590,223.9 590.3,223.9 591.6,236.9 593.3,236.9 594.4,227.5 595.5,236.9 596.8,236.9 598,234.8 599.2,236.9 600.2,236.9 602.1,234.5 602.6,234.5 604.6,236.9 604.7,236.9 604.4,227.2 605.5,236.9 606.4,236.9 607.8,209.8 608.1,209.8 609.6,236.9 610,236.9 611.3,233.7 612.5,236.9 615.1,236.9 616.3,235 616.5,235 617.8,236.9 621.8,236.9 623.2,232.6 623.5,232.6 625,236.9 627,236.9 628.3,235.9 629.5,236.9 629.5,236.9 628.2,199.3 628.5,199.3 629.8,236.9 630.8,236.9 632,232.8 632.3,232.8 633.5,236.9 634,236.9 635.4,227 635.6,227 637,236.9 642.6,236.9 643.9,236 644.2,236 645.4,236.9 647.6,236.9 649.4,232.9 649.8,232.9 651.6,236.9 651.7,236.9 652.2,178.8 653.2,236.9 653.5,236.9 655,234.4 655.3,234.4 656.7,236.9 660,236.9 661.3,232.8 661.6,232.8 663,236.9 667.4,236.9 668.6,220.7 668.8,220.7 670,236.9 674.4,236.9 675.7,228.7 676,228.7 677.2,236.9 682.3,236.9 683.7,233.3 684,233.3 685.4,236.9 690.2,236.9 691.7,235 692.1,235 693.6,236.9 694.1,236.9 695.1,220.3 696.1,236.9 698.7,236.9 700,234.8 700.2,234.8 701.5,236.9 702.4,236.9 703.8,230.9 704.1,230.9 705.4,236.9 706.8,236.9 708.4,234.3 708.8,234.3 710.3,236.9 710.4,236.9 708.9,220.4 709.1,220.4 710.4,236.9 711.3,236.9 712.7,235.8 713,235.8 714.4,236.9 716.7,236.9 717.9,230.4 718.2,230.4 719.4,236.9 720.7,236.9 721.8,229.9 722.9,236.9 725.6,236.9 726.9,236.4 727.2,236.4 728.5,236.9 733.2,236.9 734.5,235.7 734.8,235.7 736.1,236.9 736.4,236.9 737.8,230.7 738.2,230.7 739.6,236.9 742.3,236.9 743.4,232.7 744.6,236.9 746.8,236.9 748.2,232.4 748.5,232.4 749.9,236.9 754.3,236.9 755.5,228.3 756.7,236.9 760.7,236.9 762.1,236.6 762.4,236.6 763.7,236.9 763.8,236.9 764.2,224.9 764.5,224.9 766,236.9 766.5,236.9 767.7,236.5 768.9,236.9 771.9,236.9 773.9,236.7 774.4,236.7 776.3,236.9 778.1,236.9 779.7,236 780.1,236 781.7,236.9 781.7,236.9 783.2,233.1 783.5,233.1 785,236.9 786,236.9" fill="none" stroke="#000" stroke-width="1.7" stroke-dasharray="1.7 4.37" stroke-dashoffset="3"/>
<polyline points="481,244 508.5,244 509.6,137.9 510.7,244 511.2,244 512.4,216.8 512.7,216.8 513.9,244 515.3,244 516.7,237.4 517,237.4 518.4,244 524.2,244 525.4,240.9 526.6,244 532.6,244 533.7,181 534.7,244 534.7,244 535.4,227.9 535.8,227.9 537.2,244 537.8,244 538.8,189.4 539.8,244 546.1,244 547.4,222.3 547.7,222.3 548.9,244 558.4,244 560.3,240.2 560.7,240.2 562.6,244 563.3,244 564.6,234.5 564.9,234.5 566.3,244 572.9,244 574.1,241 574.3,241 575.5,244 575.6,244 575.3,218.2 575.7,218.2 577.1,244 580,244 581.5,238.2 581.8,238.2 583.3,244 583.4,244 581.6,234.5 581.9,234.5 583.4,244 587.7,244 588.7,224 589.7,244 589.8,244 590,227.4 591.2,244 593.2,244 594.4,237.2 594.6,237.2 595.8,244 596.1,244 597.3,238.7 598.5,244 601,244 602.4,240.7 602.8,240.7 604.2,244 604.2,244 605.3,231.6 605.5,231.6 606.7,244 610.4,244 612.3,240.4 612.8,240.4 614.8,244 617.8,244 619.7,240.7 620.1,240.7 622,244 626.6,244 628,206.5 628.3,206.5 629.7,244 631.7,244 633,239.2 633.3,239.2 634.6,244 635.6,244 636.8,233.6 638,244 640.3,244 642,239.6 642.4,239.6 644.1,244 645.9,244 647.8,243.4 648.3,243.4 650.1,244 651.3,244 652.2,170.6 653.2,244 653.3,244 654.9,239 655.3,239 657,244 657,244 655.1,235.4 655.4,235.4 656.7,244 661.1,244 663.1,240 663.7,240 665.7,244 666.9,244 668,215.4 669.2,244 672.2,244 673.6,242 673.9,242 675.4,244 675.4,244 675.8,233.5 676.1,233.5 677.6,244 681.2,244 682.6,241.7 682.9,241.7 684.2,244 688.7,244 690,243 690.3,243 691.7,244 694.3,244 696,242.9 696.4,242.9 698,244 698.1,244 697.2,229 697.4,229 698.6,244 698.8,244 700,236 701.2,244 701.3,244 701.6,235 701.9,235 703.2,244 707.2,244 708.7,231.3 709.1,231.3 710.6,244 714.8,244 716.1,243.6 716.4,243.6 717.8,244 722.4,244 723.8,230.8 724.1,230.8 725.5,244 726.6,244 728,238.6 728.4,238.6 729.8,244 734.2,244 735.6,242.7 735.9,242.7 737.2,244 742.7,244 743.8,238 744.8,244 746,244 747.4,241.4 747.8,241.4 749.2,244 753,244 754.8,243.6 755.3,243.6 757.1,244 757.1,244 755.1,233.6 756.4,244 761.2,244 763,242.2 763.5,242.2 765.3,244 765.3,244 763.6,230.3 763.9,230.3 765,244 766.1,244 767.8,242.9 768.2,242.9 769.9,244 772.8,244 774.8,243.6 775.3,243.6 777.3,244 779.3,244 781.3,243.4 781.9,243.4 783.9,244 786,244" fill="none" stroke="#000" stroke-width="1.7" stroke-dasharray="1.7 4.37" stroke-dashoffset="1.3"/>
<polyline points="481,251 507.9,251 509,178 510,251 511.2,251 512.7,220.1 513.1,220.1 514.6,251 515,251 516.2,246.7 517.4,251 532,251 533.3,220.9 533.5,220.9 534.8,251 537.2,251 538.3,245 539.4,251 539.4,251 539.7,146.7 540.7,251 546.1,251 547.5,234.7 547.9,234.7 549.3,251 554.8,251 556.3,247.4 556.6,247.4 558.1,251 558.5,251 560.4,250 561,250 562.9,251 563.6,251 564.8,235.4 565.1,235.4 566.3,251 567.3,251 568.8,246.6 569.1,246.6 570.6,251 575,251 576,227.1 577,251 579.2,251 580.3,244.8 581.5,251 581.5,251 581.9,239.3 583.1,251 585.4,251 586.6,249.6 587.8,251 588,251 589.1,214.2 590.2,251 590.2,251 589.5,232.8 589.8,232.8 591.1,251 596.9,251 598.1,248.4 598.4,248.4 599.6,251 599.6,251 598.8,242.9 599.9,251 602.1,251 603.5,235 603.9,235 605.3,251 605.4,251 605.1,240.5 605.4,240.5 606.8,251 610.4,251 611.6,247.3 612.8,251 619,251 620.4,249.9 620.7,249.9 622.1,251 624,251 625.3,248.3 626.5,251 626.6,251 627.6,230.8 628.7,251 631.5,251 633.4,247.5 633.8,247.5 635.7,251 635.7,251 635.9,241.5 636.3,241.5 637.8,251 637.9,251 639.8,246.4 640.3,246.4 642.2,251 646.8,251 648.1,246.9 648.3,246.9 649.6,251 651.6,251 652.6,208.2 653.5,251 658.8,251 660.1,246.1 660.4,246.1 661.8,251 664.2,251 666.2,246.6 666.7,246.6 668.7,251 668.8,251 668.2,221.6 669.3,251 672,251 674,246.6 674.5,246.6 676.4,251 676.5,251 675.8,241.3 676.2,241.3 677.6,251 678.3,251 679.6,247.8 680.9,251 681.8,251 683.3,245 683.7,245 685.2,251 685.2,251 686.8,246.2 687.2,246.2 688.7,251 690.4,251 691.7,248 693,251 694.7,251 696.2,234.9 696.5,234.9 698,251 699.1,251 700.5,243.5 700.9,243.5 702.3,251 704,251 705.9,248.7 706.3,248.7 708.2,251 708.5,251 709.6,242.1 710.6,251 711.1,251 712.4,249.5 713.6,251 716.8,251 718,242 719.1,251 719.9,251 721,241.1 722.1,251 723.8,251 725.1,249.5 726.3,251 726.7,251 727.8,246.5 728.8,251 732.5,251 734.1,248.5 734.5,248.5 736.2,251 740.9,251 742.1,247.2 743.4,251 746.2,251 747.9,249.5 748.3,249.5 749.9,251 754,251 755.3,249.8 756.5,251 756.6,251 755.3,243 755.5,243 756.8,251 758.2,251 760,250.2 760.5,250.2 762.4,251 763.5,251 765,239.2 765.3,239.2 766.8,251 767.5,251 768.9,249.9 769.2,249.9 770.5,251 771.6,251 773.1,249.9 773.4,249.9 774.9,251 780.5,251 781.8,250.5 782,250.5 783.3,251 783.9,251 785.7,250.8 786.2,250.8 788.1,251 786,251" fill="none" stroke="#000" stroke-width="1.7" stroke-dasharray="1.7 4.37" stroke-dashoffset="1.5"/>
<polyline points="481,258.1 508.4,258.1 509.4,162.4 510.3,258.1 511.5,258.1 512.7,233.2 513.9,258.1 516,258.1 517.4,255.9 517.7,255.9 519,258.1 521.9,258.1 523.1,255.4 524.3,258.1 532.7,258.1 533.9,204.4 535.1,258.1 538.5,258.1 539.5,179.6 540.5,258.1 546.7,258.1 547.8,238.9 548.9,258.1 557.2,258.1 558.4,256 558.7,256 559.9,258.1 564.1,258.1 565.2,243.7 566.3,258.1 569.6,258.1 571.6,255.3 572.1,255.3 574.1,258.1 574.2,258.1 575.2,229.2 575.5,229.2 577,258.1 577.1,258.1 577.2,248.7 577.4,248.7 578.7,258.1 579.8,258.1 581,252.2 581.2,252.2 582.4,258.1 582.6,258.1 584,249 584.4,249 585.8,258.1 585.9,258.1 586.5,233.2 586.8,233.2 588.1,258.1 588.3,258.1 589.3,208.7 590.4,258.1 591,258.1 592.2,255.5 592.5,255.5 593.7,258.1 593.8,258.1 593.5,244.1 593.8,244.1 595,258.1 595.4,258.1 596.7,250.8 597,250.8 598.3,258.1 599.9,258.1 601.3,233.8 601.6,233.8 602.9,258.1 603,258.1 602.9,244.6 604.2,258.1 607.6,258.1 609.3,254 609.7,254 611.3,258.1 613.2,258.1 614.9,253.3 615.3,253.3 617,258.1 618.3,258.1 620.2,255.1 620.7,255.1 622.6,258.1 623,258.1 624.5,254.7 624.9,254.7 626.4,258.1 628.4,258.1 629.6,226.6 630.8,258.1 631,258.1 632.2,250.5 633.3,258.1 634.9,258.1 635.9,243.6 637,258.1 639.9,258.1 641.5,254.8 641.9,254.8 643.4,258.1 648.2,258.1 649.5,254 649.8,254 651.1,258.1 651.5,258.1 652.5,220.5 653.5,258.1 654.6,258.1 655.9,249.2 656.1,249.2 657.4,258.1 662.1,258.1 663.6,254.4 664,254.4 665.5,258.1 665.5,258.1 665.4,241.2 665.7,241.2 667,258.1 669.1,258.1 671,256.4 671.5,256.4 673.4,258.1 673.4,258.1 674.3,249.7 674.5,249.7 675.8,258.1 680.9,258.1 682.1,253.5 683.2,258.1 687,258.1 689,255.1 689.6,255.1 691.5,258.1 694.7,258.1 696,244.5 696.2,244.5 697.5,258.1 697.6,258.1 698.8,247.2 699.2,247.2 700.5,258.1 700.7,258.1 702,248.5 703.3,258.1 705.1,258.1 706.3,257.7 706.6,257.7 707.9,258.1 707.9,258.1 708.6,245.4 709.7,258.1 711.7,258.1 712.9,255.5 714.2,258.1 715.2,258.1 716.7,243.1 717.1,243.1 718.6,258.1 722,258.1 723.3,246.7 724.5,258.1 727.5,258.1 728.5,255 729.5,258.1 733.3,258.1 734.7,251.1 735,251.1 736.4,258.1 737.7,258.1 739,256 739.3,256 740.6,258.1 743.7,258.1 744.9,256.5 745.1,256.5 746.3,258.1 752.2,258.1 753.5,257.1 753.7,257.1 755,258.1 758.6,258.1 759.9,256.6 760.2,256.6 761.6,258.1 763.5,258.1 764.6,247.3 765.7,258.1 770,258.1 771.7,257.1 772.2,257.1 773.9,258.1 775.2,258.1 776.9,256.8 777.3,256.8 778.9,258.1 781.4,258.1 782.5,255.1 783.6,258.1 786,258.1" fill="none" stroke="#000" stroke-width="1.7" stroke-dasharray="1.7 4.37" stroke-dashoffset="0.5"/>
<polyline points="481,265.2 507.9,265.2 508.9,166.4 509.8,265.2 511.8,265.2 513,242 514.1,265.2 531,265.2 532.3,238.7 532.6,238.7 534,265.2 538.6,265.2 539.7,166.1 540.8,265.2 546.8,265.2 548.2,222.5 548.5,222.5 549.9,265.2 555.9,265.2 557.4,262.7 557.7,262.7 559.2,265.2 562.7,265.2 564.5,261.3 565,261.3 566.8,265.2 570.5,265.2 572.5,261.4 573,261.4 575,265.2 575.1,265.2 575.5,242 576.7,265.2 577.1,265.2 578.8,262.7 579.2,262.7 580.9,265.2 581.6,265.2 583,253.6 583.3,253.6 584.7,265.2 587.4,265.2 588.8,240.1 589.1,240.1 590.5,265.2 590.5,265.2 589.5,208 590.5,265.2 593.2,265.2 594.4,253.7 594.7,253.7 595.9,265.2 596.5,265.2 597.8,259.7 599.1,265.2 599.1,265.2 598.4,249.5 598.7,249.5 599.9,265.2 602.5,265.2 603.8,252.2 605.1,265.2 609.8,265.2 611.2,262.6 611.5,262.6 612.8,265.2 615.9,265.2 617.1,260.7 618.4,265.2 620.7,265.2 622.4,260.4 622.8,260.4 624.6,265.2 626.7,265.2 627.8,243.7 628.9,265.2 629.4,265.2 630.6,260.9 630.9,260.9 632.1,265.2 635.4,265.2 636.8,252.5 637.1,252.5 638.4,265.2 642.2,265.2 643.6,261 643.9,261 645.3,265.2 649.6,265.2 650.9,264 651.2,264 652.6,265.2 652.6,265.2 652.6,232.1 653.6,265.2 654.2,265.2 655.2,255 656.3,265.2 660.7,265.2 662.7,262.8 663.2,262.8 665.2,265.2 665.6,265.2 666.6,234.4 667.6,265.2 668.4,265.2 670.3,262.1 670.8,262.1 672.7,265.2 673.5,265.2 674.8,255 675.1,255 676.4,265.2 680.5,265.2 682.2,260.4 682.7,260.4 684.4,265.2 685,265.2 686.5,260.4 686.9,260.4 688.4,265.2 689.8,265.2 691.5,261.2 691.9,261.2 693.6,265.2 693.9,265.2 695.3,251.9 695.6,251.9 697,265.2 698.5,265.2 699.8,262.2 700.1,262.2 701.5,265.2 701.5,265.2 702.6,251.9 703.8,265.2 704.7,265.2 706.2,263.6 706.5,263.6 707.9,265.2 708,265.2 708.7,256.8 709,256.8 710.3,265.2 711.8,265.2 713.1,264.5 713.4,264.5 714.7,265.2 716.1,265.2 717.6,264.8 718,264.8 719.6,265.2 719.7,265.2 719,253.7 719.3,253.7 720.6,265.2 720.7,265.2 721.3,252.2 721.6,252.2 723,265.2 723.3,265.2 725.3,263.8 725.8,263.8 727.7,265.2 731,265.2 732.4,263.1 732.7,263.1 734.1,265.2 734.3,265.2 735.6,255.9 735.9,255.9 737.2,265.2 739.7,265.2 740.8,260 742,265.2 744.3,265.2 746.1,263.4 746.5,263.4 748.2,265.2 749.8,265.2 751,263.8 751.3,263.8 752.5,265.2 753.9,265.2 755.3,262.7 755.6,262.7 756.9,265.2 761.3,265.2 762.7,264.7 763.1,264.7 764.5,265.2 764.6,265.2 765.1,254.2 765.4,254.2 766.6,265.2 772.7,265.2 774.7,264.3 775.2,264.3 777.2,265.2 781.2,265.2 783.1,263.8 783.6,263.8 785.5,265.2 786,265.2" fill="none" stroke="#000" stroke-width="1.7" stroke-dasharray="1.7 4.37" stroke-dashoffset="2.5"/>
<polyline points="481,272.2 507.9,272.2 508.9,176.2 509.9,272.2 512,272.2 513,248.2 514,272.2 531.1,272.2 532.5,239.8 532.9,239.8 534.3,272.2 539.4,272.2 540.5,193.7 541.5,272.2 547.8,272.2 549,238.1 550.2,272.2 554.6,272.2 556,269.6 556.3,269.6 557.6,272.2 560.8,272.2 562.7,268.4 563.2,268.4 565.1,272.2 565.1,272.2 565.8,263.5 566.1,263.5 567.6,272.2 568.2,272.2 569.4,268.6 570.7,272.2 573.8,272.2 575.1,252.9 575.4,252.9 576.8,272.2 577.5,272.2 578.7,260 578.9,260 580.2,272.2 581.5,272.2 583,269.4 583.4,269.4 584.8,272.2 584.9,272.2 583.2,259 583.5,259 584.9,272.2 586.1,272.2 587.4,253.2 587.7,253.2 589,272.2 589.1,272.2 589.6,211.1 590.5,272.2 591.9,272.2 593.3,263.9 593.6,263.9 594.9,272.2 597.5,272.2 598.7,266.9 599.9,272.2 599.9,272.2 599.5,257.4 600.6,272.2 601.4,272.2 602.7,268.8 603,268.8 604.2,272.2 604.3,272.2 603.1,256.9 604.1,272.2 609.8,272.2 611.4,270.9 611.8,270.9 613.3,272.2 616.4,272.2 617.7,271 618,271 619.4,272.2 621.6,272.2 622.8,271 624.1,272.2 627,272.2 628.4,255.7 628.7,255.7 630.2,272.2 631.1,272.2 632.2,266.6 633.3,272.2 635.1,272.2 636.6,263 636.9,263 638.4,272.2 645.7,272.2 647.3,268.8 647.6,268.8 649.1,272.2 652.1,272.2 653.1,213.7 654.2,272.2 654.4,272.2 655.6,255.4 655.9,255.4 657.1,272.2 657.5,272.2 659.3,268.4 659.7,268.4 661.5,272.2 663.1,272.2 664.4,255 664.7,255 666.1,272.2 669.5,272.2 671.2,268.1 671.6,268.1 673.3,272.2 677,272.2 678.4,271.4 678.7,271.4 680.2,272.2 682.1,272.2 683.3,267.9 684.5,272.2 685,272.2 686.2,271.2 687.5,272.2 690.4,272.2 692.1,267.9 692.5,267.9 694.2,272.2 694.3,272.2 694.6,259.7 694.8,259.7 696.1,272.2 698.7,272.2 699.8,264.6 700.8,272.2 701,272.2 702.5,263.2 702.9,263.2 704.4,272.2 704.8,272.2 706,256.5 706.3,256.5 707.5,272.2 712,272.2 713.3,271.9 713.6,271.9 714.8,272.2 716.3,272.2 717.4,257.7 718.5,272.2 719.8,272.2 721.1,259.7 721.4,259.7 722.7,272.2 726.1,272.2 727.4,267.7 727.7,267.7 729,272.2 732.6,272.2 733.9,266.9 734.1,266.9 735.4,272.2 736.2,272.2 737.8,269.5 738.2,269.5 739.8,272.2 740.8,272.2 742,269 743.1,272.2 746.3,272.2 747.8,265.9 748.2,265.9 749.7,272.2 757.8,272.2 759.3,271.3 759.7,271.3 761.2,272.2 764.8,272.2 766.5,270.8 766.9,270.8 768.5,272.2 768.6,272.2 766.9,260.5 767.2,260.5 768.5,272.2 773.2,272.2 775.1,271.6 775.6,271.6 777.6,272.2 782,272.2 783.4,269.4 783.7,269.4 785.1,272.2 786,272.2" fill="none" stroke="#000" stroke-width="1.7" stroke-dasharray="1.7 4.37" stroke-dashoffset="5.8"/>
<polyline points="481,279.3 507.5,279.3 508.4,184.9 509.4,279.3 510.9,279.3 512,255 512.3,255 513.5,279.3 531.1,279.3 532.4,245 532.7,245 533.9,279.3 539.5,279.3 540.6,155.1 541.7,279.3 547.9,279.3 549.1,230.3 549.4,230.3 550.6,279.3 555.9,279.3 557.9,277.2 558.4,277.2 560.3,279.3 563.5,279.3 565,277.9 565.4,277.9 566.9,279.3 567,279.3 566.7,271.2 567,271.2 568.4,279.3 572.2,279.3 573.8,276.5 574.2,276.5 575.8,279.3 575.8,279.3 575.6,263.3 576.6,279.3 576.7,279.3 576.8,264.7 577.1,264.7 578.5,279.3 582.3,279.3 583.4,267.1 584.5,279.3 585.7,279.3 587,253.3 587.3,253.3 588.5,279.3 588.6,279.3 589.4,249.2 590.4,279.3 591.3,279.3 592.7,278 593,278 594.3,279.3 594.4,279.3 593.2,269.4 593.5,269.4 594.7,279.3 596.7,279.3 598.1,260.7 598.4,260.7 599.7,279.3 599.7,279.3 598.3,269.3 598.6,269.3 600.1,279.3 602.7,279.3 604,265.1 605.2,279.3 609.9,279.3 611.2,274.5 611.5,274.5 612.7,279.3 614.3,279.3 616,276.3 616.4,276.3 618.1,279.3 619.1,279.3 620.7,277.8 621.1,277.8 622.8,279.3 624.2,279.3 625.9,278.7 626.4,278.7 628.1,279.3 628.4,279.3 629.5,267.7 630.5,279.3 630.6,279.3 631.5,269.4 631.8,269.4 633.2,279.3 636.5,279.3 637.7,263.8 639,279.3 644.8,279.3 646.4,276 646.8,276 648.4,279.3 650.5,279.3 651.8,277.7 653.1,279.3 653.1,279.3 653.1,244.2 654.2,279.3 655,279.3 656,265.3 657,279.3 662.2,279.3 663.4,246.6 663.6,246.6 664.8,279.3 672.1,279.3 673.3,276 674.5,279.3 674.7,279.3 675.7,267.5 676.8,279.3 677.7,279.3 679.1,277.2 679.4,277.2 680.7,279.3 681.3,279.3 682.8,272.8 683.2,272.8 684.6,279.3 688.3,279.3 689.6,276.6 689.9,276.6 691.2,279.3 694.1,279.3 695.4,270.9 695.7,270.9 697,279.3 698.6,279.3 700,272.7 700.3,272.7 701.7,279.3 701.7,279.3 702.6,257.9 703,257.9 704.4,279.3 707.9,279.3 709.1,267.6 709.4,267.6 710.6,279.3 712.3,279.3 714.1,278 714.5,278 716.3,279.3 717.2,279.3 718.5,262.7 718.8,262.7 720.1,279.3 721.2,279.3 722.2,264.5 723.3,279.3 727.2,279.3 728.4,274.2 729.6,279.3 735.2,279.3 736.3,269.6 737.4,279.3 737.7,279.3 739.4,277 739.9,277 741.6,279.3 745.1,279.3 746.4,274.8 747.7,279.3 752.5,279.3 754.1,278 754.5,278 756.1,279.3 759.5,279.3 760.9,277.6 761.2,277.6 762.5,279.3 764.7,279.3 765.8,269.5 766.9,279.3 772.3,279.3 773.5,278.1 774.7,279.3 776.9,279.3 778.4,278.1 778.7,278.1 780.2,279.3 783.7,279.3 784.7,275.4 785.8,279.3 786,279.3" fill="none" stroke="#000" stroke-width="1.7" stroke-dasharray="1.7 4.37" stroke-dashoffset="0.6"/>
<polyline points="481,286.4 507,286.4 508.1,186.8 509.1,286.4 510.7,286.4 512.2,265.3 512.5,265.3 514,286.4 530.6,286.4 532,258.2 532.3,258.2 533.7,286.4 539.7,286.4 540.8,202.4 541.9,286.4 547.8,286.4 549.2,228.8 549.6,228.8 551,286.4 556.5,286.4 558.5,282.9 559,282.9 560.9,286.4 563,286.4 564.3,284.3 564.5,284.3 565.8,286.4 566.5,286.4 567.8,275.9 568,275.9 569.3,286.4 570.7,286.4 571.9,284.2 572.2,284.2 573.5,286.4 573.6,286.4 575.1,260.1 575.4,260.1 576.9,286.4 577,286.4 576.3,275.2 576.7,275.2 578.2,286.4 579.3,286.4 580.6,280.1 580.9,280.1 582.1,286.4 582.2,286.4 581.9,273.5 582.9,286.4 585.3,286.4 586.8,255.1 587.1,255.1 588.6,286.4 588.6,286.4 589.4,243.6 590.4,286.4 593.3,286.4 594.5,274.6 595.6,286.4 595.6,286.4 594.8,266.4 596,286.4 596.5,286.4 597.6,280.5 598.7,286.4 601.5,286.4 602.9,284.6 603.2,284.6 604.6,286.4 604.7,286.4 604.6,268.7 604.9,268.7 606.4,286.4 606.8,286.4 608,283.3 609.3,286.4 609.5,286.4 611,283.8 611.3,283.8 612.8,286.4 619.2,286.4 621.1,282.8 621.6,282.8 623.6,286.4 624.5,286.4 625.9,285 626.2,285 627.6,286.4 627.6,286.4 627.5,269.4 627.8,269.4 629.2,286.4 630.5,286.4 632.3,282.1 632.8,282.1 634.7,286.4 634.8,286.4 632.5,275.3 632.8,275.3 634.3,286.4 636.4,286.4 637.4,275.9 638.5,286.4 639.7,286.4 640.9,285.8 642.1,286.4 645.4,286.4 646.6,283.9 647.8,286.4 650.2,286.4 652.1,285.3 652.6,285.3 654.5,286.4 654.5,286.4 653.3,243.4 654.2,286.4 654.4,286.4 655.8,269.1 656.1,269.1 657.5,286.4 662.8,286.4 663.9,261.2 665.1,286.4 668.4,286.4 670.5,284.8 671,284.8 673,286.4 673.1,286.4 674.1,277.2 674.4,277.2 675.7,286.4 676.7,286.4 678.1,282.6 678.5,282.6 679.9,286.4 682.4,286.4 683.7,281.7 684.9,286.4 685.3,286.4 687,281.5 687.4,281.5 689.1,286.4 690.5,286.4 692.1,285.6 692.5,285.6 694.1,286.4 695,286.4 696.1,278.6 697.2,286.4 699.7,286.4 700.8,263.4 701.9,286.4 705.1,286.4 706.4,274.6 706.7,274.6 708,286.4 712.5,286.4 713.8,286 714,286 715.3,286.4 717.3,286.4 718.8,270.7 719.1,270.7 720.6,286.4 721.6,286.4 722.6,265.9 723.7,286.4 727.4,286.4 728.6,280.4 729.7,286.4 733.1,286.4 734.5,277.9 734.9,277.9 736.3,286.4 740.2,286.4 741.4,282.7 742.6,286.4 747.3,286.4 748.6,280.1 748.9,280.1 750.3,286.4 753.4,286.4 754.8,285.6 755.1,285.6 756.5,286.4 758,286.4 759.2,285.5 760.4,286.4 765.9,286.4 767.2,278.5 767.5,278.5 768.8,286.4 770.3,286.4 772.1,285.8 772.6,285.8 774.4,286.4 776.2,286.4 777.7,286 778,286 779.5,286.4 782.6,286.4 783.8,283.8 784,283.8 785.2,286.4 786,286.4" fill="none" stroke="#000" stroke-width="1.7" stroke-dasharray="1.7 4.37" stroke-dashoffset="2.4"/>
<polyline points="481,293.4 507.2,293.4 508.2,165.4 509.1,293.4 511.8,293.4 513,266.1 513.3,266.1 514.5,293.4 529.2,293.4 530.7,278.8 531,278.8 532.5,293.4 540.3,293.4 541.4,163.6 542.4,293.4 547.9,293.4 549.3,251.4 549.6,251.4 551,293.4 557.1,293.4 559,290.1 559.5,290.1 561.5,293.4 562,293.4 563.2,292 563.4,292 564.6,293.4 567.7,293.4 568.7,282.3 569.8,293.4 574,293.4 575,273.4 576,293.4 576.5,293.4 577.8,285.7 579.1,293.4 579.1,293.4 580,284.6 580.3,284.6 581.7,293.4 583.8,293.4 585,278.3 586.3,293.4 586.3,293.4 586.2,260.7 586.6,260.7 588,293.4 588.3,293.4 589.3,221.9 590.4,293.4 590.9,293.4 592.1,290 593.3,293.4 593.4,293.4 594.8,273.5 595.1,273.5 596.6,293.4 596.6,293.4 595,271.9 596.1,293.4 596.3,293.4 597.8,288.5 598.1,288.5 599.5,293.4 599.6,293.4 599.7,281.6 600,281.6 601.3,293.4 601.5,293.4 603.1,288.4 603.5,288.4 605.2,293.4 605.2,293.4 604.6,283.5 604.9,283.5 606.3,293.4 608.5,293.4 609.8,288.8 610.1,288.8 611.4,293.4 615.2,293.4 616.6,291.7 616.9,291.7 618.3,293.4 620.6,293.4 621.9,289.8 623.2,293.4 624.2,293.4 626.2,290.7 626.7,290.7 628.8,293.4 628.8,293.4 628.9,285.1 630,293.4 630.7,293.4 632,283.3 632.3,283.3 633.6,293.4 637.4,293.4 638.5,277.1 639.7,293.4 644.7,293.4 645.9,292.8 646.1,292.8 647.3,293.4 648.9,293.4 650.4,291.4 650.8,291.4 652.3,293.4 652.4,293.4 653.1,270.2 654.2,293.4 654.2,293.4 655.1,274.4 656.4,293.4 662.6,293.4 664,261.4 664.3,261.4 665.7,293.4 667,293.4 668.9,292 669.4,292 671.3,293.4 673.2,293.4 674.4,286.1 675.7,293.4 679.9,293.4 681.8,288.8 682.3,288.8 684.2,293.4 685.4,293.4 687.4,289.6 687.9,289.6 689.8,293.4 694.1,293.4 695.9,288.6 696.3,288.6 698.2,293.4 698.2,293.4 696.9,284.7 697.2,284.7 698.6,293.4 698.6,293.4 699.5,283.6 699.8,283.6 701.1,293.4 701.1,293.4 701.7,280.8 702.9,293.4 705.7,293.4 706.7,282.8 707.7,293.4 709.1,293.4 710.7,290.6 711.1,290.6 712.7,293.4 712.9,293.4 714.8,291.9 715.3,291.9 717.2,293.4 717.2,293.4 716.7,277.8 717,277.8 718.4,293.4 721.2,293.4 722.3,280.4 723.5,293.4 727.8,293.4 728.9,289.4 729.9,293.4 734.4,293.4 735.7,285.1 736,285.1 737.2,293.4 738.4,293.4 739.8,286.6 740.1,286.6 741.5,293.4 743.7,293.4 744.9,290.8 746.1,293.4 749,293.4 750.3,292.8 750.6,292.8 751.9,293.4 755.8,293.4 757.6,292 758,292 759.7,293.4 764.8,293.4 766.2,293.1 766.5,293.1 767.8,293.4 767.9,293.4 768.7,280.5 769,280.5 770.3,293.4 770.3,293.4 772.1,292 772.5,292 774.3,293.4 779.5,293.4 781.1,291.8 781.5,291.8 783.1,293.4 783.1,293.4 784.4,290.9 784.7,290.9 786,293.4 786,293.4" fill="none" stroke="#000" stroke-width="1.7" stroke-dasharray="1.7 4.37" stroke-dashoffset="3.1"/>
<polygon points="481,299.1 485,298.8 487.5,298.8 489.6,299 492.2,298.7 496.7,299.1 499.2,299 503.2,299 506.1,299.1 506.5,208.2 506.9,207.7 509.1,207.7 509.5,208.2 509.9,299.1 510.6,299.1 511,281.1 511.4,280.6 513.6,280.6 514,281.1 514.4,299.1 518.9,299 523.7,298.9 527.4,298.9 529.1,299.1 530.9,283.7 531.6,283.7 533.3,299.1 536.6,299 539.4,299.1 539.8,186.9 540.2,186.4 542.4,186.4 542.8,186.9 543.2,299.1 546.2,299 548.1,299.1 548.5,251.7 548.9,251.2 551.1,251.2 551.5,251.7 551.9,299.1 554,299.1 558.2,299.1 563.7,299.1 565.6,294 566.4,294 568.3,299.1 568.3,299.1 568.6,293 569.4,293 571.3,299.1 573.1,299.1 573.5,283.1 573.9,282.6 576.1,282.6 576.5,283.1 576.9,299.1 580.1,298.7 584.3,299.1 586.2,270.5 587,270.5 588.9,299.1 588.9,299.1 589.2,243 590,243 591.7,299.1 593.8,298.9 596.3,299 598.4,298.7 600.4,298.9 601.7,299.1 603.5,281.6 604.2,281.6 606.1,299.1 607.7,299.1 609.6,295 610.4,295 612.3,299.1 612.3,299.1 613.6,295 614.4,295 616.3,299.1 620.5,298.9 622.7,299.1 624.6,290 625.4,290 627.3,299.1 627.3,299.1 627.4,289 627.9,289 629.8,299.1 629.8,299.1 629.9,288.7 630.4,288.7 632.1,299.1 632.1,299.1 632.9,287.5 633.6,287.5 635.4,299.1 635.4,299.1 635.5,277 635.9,276.5 638.1,276.5 638.5,277 638.9,299.1 642.2,298.8 646.2,299 649.4,298.7 651.3,299.1 653,275.5 653.8,275.5 655.5,299.1 655.5,299.1 656,275.5 656.8,275.5 658.5,299.1 660.8,299.1 662.6,270 663.4,270 665.2,299.1 668,299 671.7,299.1 673.6,289.7 674.4,289.7 676.3,299.1 679.5,298.7 680.7,299.1 682.4,290.8 683.1,290.8 684.9,299.1 688.7,299.1 690.6,294.8 691.4,294.8 693.3,299.1 693.5,299.1 695.2,290.8 696,290.8 697.7,299.1 697.8,299.1 699.4,285.7 700.1,285.7 701.8,299.1 701.9,299.1 702.1,275.5 702.9,275.5 704.7,299.1 704.9,299.1 706.9,288.7 707.6,288.7 709.5,299.1 712,299.1 713.9,293.8 714.6,293.8 716.6,299.1 716.6,299.1 716.9,265.4 717.6,265.4 719.5,299.1 719.8,299.1 721.6,279.6 722.4,279.6 724.2,299.1 725.2,299.1 727.1,292.8 727.9,292.8 729.8,299.1 732.3,299.1 734.2,290.8 735,290.8 736.9,299.1 738.4,299.1 740.4,293.8 741.1,293.8 743,299.1 744.9,299.1 746.9,291.8 747.6,291.8 749.5,299.1 753.8,298.7 756.4,299 761.3,299 765.6,299.1 766,286.2 766.4,285.7 768.6,285.7 769,286.2 769.4,299.1 772.7,298.7 777.3,299 780.8,299 782,299.1 783.9,296.5 784.6,296.5 786.6,299.1 786,299.1 786,301.9 481,301.9" fill="#f0f" stroke="none"/>
<path d="M508 300.5 L508 308M541.3 300.5 L541.3 307M589 300.5 L589 305.5M604 300.5 L604 303.5" stroke="#f0f" stroke-width="1.5" fill="none"/>
</g>
<g stroke="#000" stroke-width="1.7" fill="none">
<rect x="481" y="12" width="305" height="305.1"/>
</g>
<g stroke="#000" stroke-width="1.6" fill="none">
<path d="M508.7 317.1 v-10.6 M508.7 12 v10.6"/>
<path d="M619.7 317.1 v-10.6 M619.7 12 v10.6"/>
<path d="M730.6 317.1 v-10.6 M730.6 12 v10.6"/>
</g>
<text transform="translate(496.54 349.10) scale(1.000 1.085)" style="font-family:'Liberation Sans',sans-serif;font-size:28.3px;fill:#000;stroke:#000;stroke-width:0.15">-</text>
<text transform="translate(505.98 348.50) scale(1.000 1.030)" style="font-family:'Liberation Sans',sans-serif;font-size:28.3px;fill:#000;stroke:#000;stroke-width:0.15">2</text>
<text transform="translate(612.79 349.10) scale(1.000 1.085)" style="font-family:'Liberation Sans',sans-serif;font-size:28.3px;fill:#000;stroke:#000;stroke-width:0.15">0</text>
<text transform="translate(722.38 348.50) scale(1.000 1.030)" style="font-family:'Liberation Sans',sans-serif;font-size:28.3px;fill:#000;stroke:#000;stroke-width:0.15">2</text>
<text transform="translate(603.31 379.70) scale(1.170 1.000)" style="font-family:'Liberation Serif',serif;font-size:28.3px;fill:#000;stroke:#000;stroke-width:0.3">ω</text>
<text transform="translate(630.90 380.00) scale(1.000 1.000)" style="font-family:'Liberation Sans',sans-serif;font-size:28.3px;fill:#000;stroke:#000;stroke-width:0.15">/</text>
<text transform="translate(646.97 380.00) scale(1.000 1.000)" style="font-family:'Liberation Sans',sans-serif;font-size:28.3px;fill:#000;stroke:#000;stroke-width:0.15">t</text>
<text transform="translate(653.99 391.00) scale(1.000 1.000)" style="font-family:'Liberation Sans',sans-serif;font-size:20.3px;fill:#000;stroke:#000;stroke-width:0.15">b</text>
<text transform="translate(438.40 202.36) rotate(-90) scale(1.000 1.085)" style="font-family:'Liberation Sans',sans-serif;font-size:28.3px;fill:#000;stroke:#000;stroke-width:0.15">A</text>
<text transform="translate(438.40 185.15) rotate(-90) scale(1.000 1.000)" style="font-family:'Liberation Sans',sans-serif;font-size:28.3px;fill:#000;stroke:#000;stroke-width:0.15">(</text>
<text transform="translate(438.40 176.31) rotate(-90) scale(1.000 1.000)" style="font-family:'Liberation Sans',sans-serif;font-size:28.3px;fill:#000;stroke:#000;stroke-width:0.15">k</text>
<text transform="translate(438.40 161.14) rotate(-90) scale(1.000 1.000)" style="font-family:'Liberation Sans',sans-serif;font-size:28.3px;fill:#000;stroke:#000;stroke-width:0.15">,</text>
<text transform="translate(438.20 154.52) rotate(-90) scale(1.000 1.000)" style="font-family:'Liberation Sans',sans-serif;font-size:25.2px;fill:#000;stroke:#000;stroke-width:0.15">ω</text>
<text transform="translate(438.40 134.37) rotate(-90) scale(1.000 1.000)" style="font-family:'Liberation Sans',sans-serif;font-size:28.3px;fill:#000;stroke:#000;stroke-width:0.15">)</text>
<text transform="translate(455.99 88.00) scale(1.000 1.000)" style="font-family:'Liberation Sans',sans-serif;font-size:28.3px;fill:#000;stroke:#000;stroke-width:0.15">k</text>
<path d="M451.4 96.8 H475.1" stroke="#000" stroke-width="1.6"/>
<text transform="translate(456.79 140.90) scale(1.000 1.085)" style="font-family:'Liberation Sans',sans-serif;font-size:28.3px;fill:#00f;stroke:#00f;stroke-width:0.15">0</text>
<text transform="translate(454.37 207.40) scale(1.100 1.000)" style="font-family:'Liberation Serif',serif;font-size:28.3px;fill:#f00;stroke:#f00;stroke-width:0.25">π</text>
<path d="M454.4 214.5 H470.7" stroke="#f00" stroke-width="1.5"/>
<text transform="translate(454.38 238.90) scale(1.000 1.030)" style="font-family:'Liberation Sans',sans-serif;font-size:28.3px;fill:#f00;stroke:#f00;stroke-width:0.15">2</text>
<text transform="translate(455.77 307.70) scale(1.100 1.000)" style="font-family:'Liberation Serif',serif;font-size:28.3px;fill:#f0f;stroke:#f0f;stroke-width:0.25">π</text>
</svg></body></html>
